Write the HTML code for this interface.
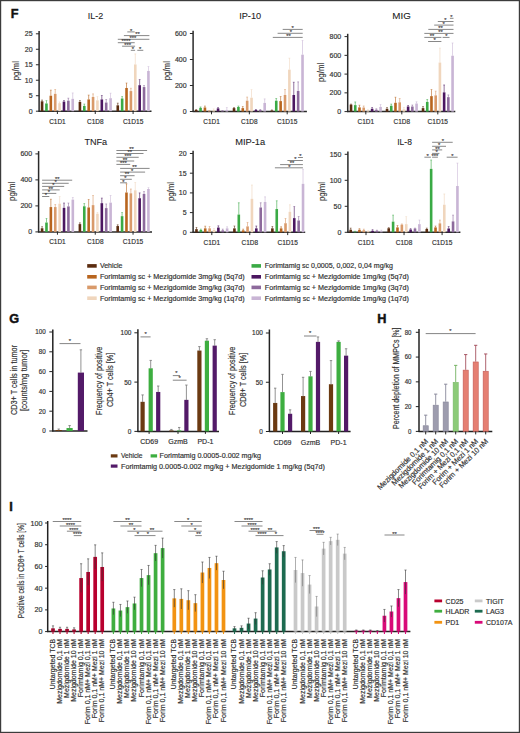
<!DOCTYPE html><html><head><meta charset="utf-8"><style>html,body{margin:0;padding:0;background:#fff;}svg{display:block;font-family:"Liberation Sans", sans-serif;}</style></head><body>
<svg width="520" height="733" viewBox="0 0 520 733">
<rect x="0" y="0" width="520" height="733" fill="#fff"/>
<text x="10.8" y="17.9" font-size="12.7" text-anchor="start" fill="#111" font-weight="bold" stroke="#111" stroke-width="0.45">F</text>
<text x="95.45" y="18.9" font-size="9.7" text-anchor="middle" fill="#222" font-weight="normal" textLength="15.5" lengthAdjust="spacingAndGlyphs" stroke="#222" stroke-width="0.08">IL-2</text>
<line x1="39.1" y1="31" x2="39.1" y2="111.7" stroke="#2a2a2a" stroke-width="1.5"/>
<line x1="35.9" y1="111.2" x2="39.1" y2="111.2" stroke="#2a2a2a" stroke-width="1"/>
<text x="32.6" y="113.7" font-size="7" text-anchor="end" fill="#333" font-weight="normal" stroke="#333" stroke-width="0.18">0</text>
<line x1="35.9" y1="95.72" x2="39.1" y2="95.72" stroke="#2a2a2a" stroke-width="1"/>
<text x="32.6" y="98.22" font-size="7" text-anchor="end" fill="#333" font-weight="normal" stroke="#333" stroke-width="0.18">5</text>
<line x1="35.9" y1="80.24" x2="39.1" y2="80.24" stroke="#2a2a2a" stroke-width="1"/>
<text x="32.6" y="82.74" font-size="7" text-anchor="end" fill="#333" font-weight="normal" stroke="#333" stroke-width="0.18">10</text>
<line x1="35.9" y1="64.76" x2="39.1" y2="64.76" stroke="#2a2a2a" stroke-width="1"/>
<text x="32.6" y="67.26" font-size="7" text-anchor="end" fill="#333" font-weight="normal" stroke="#333" stroke-width="0.18">15</text>
<line x1="35.9" y1="49.28" x2="39.1" y2="49.28" stroke="#2a2a2a" stroke-width="1"/>
<text x="32.6" y="51.78" font-size="7" text-anchor="end" fill="#333" font-weight="normal" stroke="#333" stroke-width="0.18">20</text>
<line x1="35.9" y1="33.8" x2="39.1" y2="33.8" stroke="#2a2a2a" stroke-width="1"/>
<text x="32.6" y="36.3" font-size="7" text-anchor="end" fill="#333" font-weight="normal" stroke="#333" stroke-width="0.18">25</text>
<line x1="38.6" y1="111.2" x2="151.5" y2="111.2" stroke="#2a2a2a" stroke-width="1.5"/>
<text x="19.3" y="70.7" font-size="9.2" text-anchor="middle" fill="#333" font-weight="normal" transform="rotate(-90 19.3 70.7)" textLength="19.2" lengthAdjust="spacingAndGlyphs" stroke="#333" stroke-width="0.12">pg/ml</text>
<line x1="57.4" y1="111.2" x2="57.4" y2="114" stroke="#2a2a2a" stroke-width="1"/>
<text x="57.4" y="123.6" font-size="7" text-anchor="middle" fill="#333" font-weight="normal" textLength="16.5" lengthAdjust="spacingAndGlyphs" stroke="#333" stroke-width="0.18">C1D1</text>
<line x1="42.07" y1="100.05" x2="42.07" y2="101.29" stroke="#5b2c0f" stroke-width="0.75" opacity="0.8"/>
<line x1="41.17" y1="100.05" x2="42.97" y2="100.05" stroke="#5b2c0f" stroke-width="0.6" opacity="0.8"/>
<rect x="40.77" y="101.29" width="2.6" height="9.91" fill="#5b2c0f"/>
<line x1="46.45" y1="100.67" x2="46.45" y2="103.46" stroke="#3aaa45" stroke-width="0.75" opacity="0.8"/>
<line x1="45.55" y1="100.67" x2="47.35" y2="100.67" stroke="#3aaa45" stroke-width="0.6" opacity="0.8"/>
<rect x="45.15" y="103.46" width="2.6" height="7.74" fill="#3aaa45"/>
<line x1="50.83" y1="90.15" x2="50.83" y2="95.72" stroke="#b8651f" stroke-width="0.75" opacity="0.8"/>
<line x1="49.93" y1="90.15" x2="51.73" y2="90.15" stroke="#b8651f" stroke-width="0.6" opacity="0.8"/>
<rect x="49.53" y="95.72" width="2.6" height="15.48" fill="#b8651f"/>
<line x1="55.21" y1="89.53" x2="55.21" y2="93.86" stroke="#d99a6a" stroke-width="0.75" opacity="0.8"/>
<line x1="54.31" y1="89.53" x2="56.11" y2="89.53" stroke="#d99a6a" stroke-width="0.6" opacity="0.8"/>
<rect x="53.91" y="93.86" width="2.6" height="17.34" fill="#d99a6a"/>
<line x1="59.59" y1="101.91" x2="59.59" y2="103.15" stroke="#f0d6bd" stroke-width="0.75" opacity="0.8"/>
<line x1="58.69" y1="101.91" x2="60.49" y2="101.91" stroke="#f0d6bd" stroke-width="0.6" opacity="0.8"/>
<rect x="58.29" y="103.15" width="2.6" height="8.05" fill="#f0d6bd"/>
<line x1="63.97" y1="100.36" x2="63.97" y2="101.6" stroke="#4b1660" stroke-width="0.75" opacity="0.8"/>
<line x1="63.07" y1="100.36" x2="64.87" y2="100.36" stroke="#4b1660" stroke-width="0.6" opacity="0.8"/>
<rect x="62.67" y="101.6" width="2.6" height="9.6" fill="#4b1660"/>
<line x1="68.35" y1="98.2" x2="68.35" y2="100.67" stroke="#8d6a9c" stroke-width="0.75" opacity="0.8"/>
<line x1="67.45" y1="98.2" x2="69.25" y2="98.2" stroke="#8d6a9c" stroke-width="0.6" opacity="0.8"/>
<rect x="67.05" y="100.67" width="2.6" height="10.53" fill="#8d6a9c"/>
<line x1="72.73" y1="92.93" x2="72.73" y2="98.82" stroke="#c9b5d5" stroke-width="0.75" opacity="0.8"/>
<line x1="71.83" y1="92.93" x2="73.63" y2="92.93" stroke="#c9b5d5" stroke-width="0.6" opacity="0.8"/>
<rect x="71.43" y="98.82" width="2.6" height="12.38" fill="#c9b5d5"/>
<line x1="95.25" y1="111.2" x2="95.25" y2="114" stroke="#2a2a2a" stroke-width="1"/>
<text x="95.25" y="123.6" font-size="7" text-anchor="middle" fill="#333" font-weight="normal" textLength="16.5" lengthAdjust="spacingAndGlyphs" stroke="#333" stroke-width="0.18">C1D8</text>
<line x1="79.92" y1="100.36" x2="79.92" y2="101.91" stroke="#5b2c0f" stroke-width="0.75" opacity="0.8"/>
<line x1="79.02" y1="100.36" x2="80.82" y2="100.36" stroke="#5b2c0f" stroke-width="0.6" opacity="0.8"/>
<rect x="78.62" y="101.91" width="2.6" height="9.29" fill="#5b2c0f"/>
<line x1="84.3" y1="104.08" x2="84.3" y2="105.94" stroke="#3aaa45" stroke-width="0.75" opacity="0.8"/>
<line x1="83.4" y1="104.08" x2="85.2" y2="104.08" stroke="#3aaa45" stroke-width="0.6" opacity="0.8"/>
<rect x="83" y="105.94" width="2.6" height="5.26" fill="#3aaa45"/>
<line x1="88.68" y1="95.1" x2="88.68" y2="99.44" stroke="#b8651f" stroke-width="0.75" opacity="0.8"/>
<line x1="87.78" y1="95.1" x2="89.58" y2="95.1" stroke="#b8651f" stroke-width="0.6" opacity="0.8"/>
<rect x="87.38" y="99.44" width="2.6" height="11.76" fill="#b8651f"/>
<line x1="93.06" y1="93.86" x2="93.06" y2="96.96" stroke="#d99a6a" stroke-width="0.75" opacity="0.8"/>
<line x1="92.16" y1="93.86" x2="93.96" y2="93.86" stroke="#d99a6a" stroke-width="0.6" opacity="0.8"/>
<rect x="91.76" y="96.96" width="2.6" height="14.24" fill="#d99a6a"/>
<line x1="97.44" y1="96.65" x2="97.44" y2="100.36" stroke="#f0d6bd" stroke-width="0.75" opacity="0.8"/>
<line x1="96.54" y1="96.65" x2="98.34" y2="96.65" stroke="#f0d6bd" stroke-width="0.6" opacity="0.8"/>
<rect x="96.14" y="100.36" width="2.6" height="10.84" fill="#f0d6bd"/>
<line x1="101.82" y1="95.41" x2="101.82" y2="99.44" stroke="#4b1660" stroke-width="0.75" opacity="0.8"/>
<line x1="100.92" y1="95.41" x2="102.72" y2="95.41" stroke="#4b1660" stroke-width="0.6" opacity="0.8"/>
<rect x="100.52" y="99.44" width="2.6" height="11.76" fill="#4b1660"/>
<line x1="106.2" y1="99.44" x2="106.2" y2="102.53" stroke="#8d6a9c" stroke-width="0.75" opacity="0.8"/>
<line x1="105.3" y1="99.44" x2="107.1" y2="99.44" stroke="#8d6a9c" stroke-width="0.6" opacity="0.8"/>
<rect x="104.9" y="102.53" width="2.6" height="8.67" fill="#8d6a9c"/>
<line x1="110.58" y1="93.24" x2="110.58" y2="98.2" stroke="#c9b5d5" stroke-width="0.75" opacity="0.8"/>
<line x1="109.68" y1="93.24" x2="111.48" y2="93.24" stroke="#c9b5d5" stroke-width="0.6" opacity="0.8"/>
<rect x="109.28" y="98.2" width="2.6" height="13" fill="#c9b5d5"/>
<line x1="133.1" y1="111.2" x2="133.1" y2="114" stroke="#2a2a2a" stroke-width="1"/>
<text x="133.1" y="123.6" font-size="7" text-anchor="middle" fill="#333" font-weight="normal" textLength="20.4" lengthAdjust="spacingAndGlyphs" stroke="#333" stroke-width="0.18">C1D15</text>
<line x1="117.77" y1="103.15" x2="117.77" y2="105.32" stroke="#5b2c0f" stroke-width="0.75" opacity="0.8"/>
<line x1="116.87" y1="103.15" x2="118.67" y2="103.15" stroke="#5b2c0f" stroke-width="0.6" opacity="0.8"/>
<rect x="116.47" y="105.32" width="2.6" height="5.88" fill="#5b2c0f"/>
<line x1="122.15" y1="96.34" x2="122.15" y2="98.51" stroke="#3aaa45" stroke-width="0.75" opacity="0.8"/>
<line x1="121.25" y1="96.34" x2="123.05" y2="96.34" stroke="#3aaa45" stroke-width="0.6" opacity="0.8"/>
<rect x="120.85" y="98.51" width="2.6" height="12.69" fill="#3aaa45"/>
<line x1="126.53" y1="83.03" x2="126.53" y2="87.98" stroke="#b8651f" stroke-width="0.75" opacity="0.8"/>
<line x1="125.63" y1="83.03" x2="127.43" y2="83.03" stroke="#b8651f" stroke-width="0.6" opacity="0.8"/>
<rect x="125.23" y="87.98" width="2.6" height="23.22" fill="#b8651f"/>
<line x1="130.91" y1="88.29" x2="130.91" y2="91.08" stroke="#d99a6a" stroke-width="0.75" opacity="0.8"/>
<line x1="130.01" y1="88.29" x2="131.81" y2="88.29" stroke="#d99a6a" stroke-width="0.6" opacity="0.8"/>
<rect x="129.61" y="91.08" width="2.6" height="20.12" fill="#d99a6a"/>
<line x1="135.29" y1="53.92" x2="135.29" y2="64.45" stroke="#f0d6bd" stroke-width="0.75" opacity="0.8"/>
<line x1="134.39" y1="53.92" x2="136.19" y2="53.92" stroke="#f0d6bd" stroke-width="0.6" opacity="0.8"/>
<rect x="133.99" y="64.45" width="2.6" height="46.75" fill="#f0d6bd"/>
<line x1="139.67" y1="79.62" x2="139.67" y2="85.19" stroke="#4b1660" stroke-width="0.75" opacity="0.8"/>
<line x1="138.77" y1="79.62" x2="140.57" y2="79.62" stroke="#4b1660" stroke-width="0.6" opacity="0.8"/>
<rect x="138.37" y="85.19" width="2.6" height="26.01" fill="#4b1660"/>
<line x1="144.05" y1="85.5" x2="144.05" y2="87.05" stroke="#8d6a9c" stroke-width="0.75" opacity="0.8"/>
<line x1="143.15" y1="85.5" x2="144.95" y2="85.5" stroke="#8d6a9c" stroke-width="0.6" opacity="0.8"/>
<rect x="142.75" y="87.05" width="2.6" height="24.15" fill="#8d6a9c"/>
<line x1="148.43" y1="66.62" x2="148.43" y2="70.95" stroke="#c9b5d5" stroke-width="0.75" opacity="0.8"/>
<line x1="147.53" y1="66.62" x2="149.33" y2="66.62" stroke="#c9b5d5" stroke-width="0.6" opacity="0.8"/>
<rect x="147.13" y="70.95" width="2.6" height="40.25" fill="#c9b5d5"/>
<line x1="127.3" y1="31.9" x2="134.7" y2="31.9" stroke="#555" stroke-width="0.7"/>
<text x="131.2" y="32.65" font-size="5.8" text-anchor="middle" fill="#333" font-weight="normal" stroke="#333" stroke-width="0.1">*</text>
<line x1="123.9" y1="35.6" x2="149.4" y2="35.6" stroke="#555" stroke-width="0.7"/>
<text x="137.5" y="36.35" font-size="5.8" text-anchor="middle" fill="#333" font-weight="normal" stroke="#333" stroke-width="0.1">**</text>
<line x1="117.8" y1="39.3" x2="149.4" y2="39.3" stroke="#555" stroke-width="0.7"/>
<text x="132.9" y="40.05" font-size="5.8" text-anchor="middle" fill="#333" font-weight="normal" stroke="#333" stroke-width="0.1">***</text>
<line x1="117.8" y1="42.7" x2="134.7" y2="42.7" stroke="#555" stroke-width="0.7"/>
<text x="126" y="43.45" font-size="5.8" text-anchor="middle" fill="#333" font-weight="normal" stroke="#333" stroke-width="0.1">****</text>
<line x1="122.1" y1="46.2" x2="135.1" y2="46.2" stroke="#555" stroke-width="0.7"/>
<text x="127.7" y="46.95" font-size="5.8" text-anchor="middle" fill="#333" font-weight="normal" stroke="#333" stroke-width="0.1">***</text>
<line x1="130.8" y1="50.3" x2="135.1" y2="50.3" stroke="#555" stroke-width="0.7"/>
<text x="132.9" y="51.05" font-size="5.8" text-anchor="middle" fill="#333" font-weight="normal" stroke="#333" stroke-width="0.1">*</text>
<line x1="137.3" y1="50.3" x2="143.3" y2="50.3" stroke="#555" stroke-width="0.7"/>
<text x="140.1" y="51.05" font-size="5.8" text-anchor="middle" fill="#333" font-weight="normal" stroke="#333" stroke-width="0.1">*</text>
<text x="250.15" y="18.9" font-size="9.7" text-anchor="middle" fill="#222" font-weight="normal" textLength="21.9" lengthAdjust="spacingAndGlyphs" stroke="#222" stroke-width="0.08">IP-10</text>
<line x1="193.1" y1="30.7" x2="193.1" y2="112" stroke="#2a2a2a" stroke-width="1.5"/>
<line x1="189.9" y1="111.5" x2="193.1" y2="111.5" stroke="#2a2a2a" stroke-width="1"/>
<text x="186.6" y="114" font-size="7" text-anchor="end" fill="#333" font-weight="normal" stroke="#333" stroke-width="0.18">0</text>
<line x1="189.9" y1="85.5" x2="193.1" y2="85.5" stroke="#2a2a2a" stroke-width="1"/>
<text x="186.6" y="88" font-size="7" text-anchor="end" fill="#333" font-weight="normal" stroke="#333" stroke-width="0.18">200</text>
<line x1="189.9" y1="59.5" x2="193.1" y2="59.5" stroke="#2a2a2a" stroke-width="1"/>
<text x="186.6" y="62" font-size="7" text-anchor="end" fill="#333" font-weight="normal" stroke="#333" stroke-width="0.18">400</text>
<line x1="189.9" y1="33.5" x2="193.1" y2="33.5" stroke="#2a2a2a" stroke-width="1"/>
<text x="186.6" y="36" font-size="7" text-anchor="end" fill="#333" font-weight="normal" stroke="#333" stroke-width="0.18">600</text>
<line x1="192.6" y1="111.5" x2="306.9" y2="111.5" stroke="#2a2a2a" stroke-width="1.5"/>
<text x="169.9" y="70.7" font-size="9.2" text-anchor="middle" fill="#333" font-weight="normal" transform="rotate(-90 169.9 70.7)" textLength="19.2" lengthAdjust="spacingAndGlyphs" stroke="#333" stroke-width="0.12">pg/ml</text>
<line x1="211.5" y1="111.5" x2="211.5" y2="114.3" stroke="#2a2a2a" stroke-width="1"/>
<text x="211.5" y="123.9" font-size="7" text-anchor="middle" fill="#333" font-weight="normal" textLength="16.5" lengthAdjust="spacingAndGlyphs" stroke="#333" stroke-width="0.18">C1D1</text>
<line x1="196.17" y1="109.55" x2="196.17" y2="109.94" stroke="#5b2c0f" stroke-width="0.75" opacity="0.8"/>
<line x1="195.27" y1="109.55" x2="197.07" y2="109.55" stroke="#5b2c0f" stroke-width="0.6" opacity="0.8"/>
<rect x="194.87" y="109.94" width="2.6" height="1.56" fill="#5b2c0f"/>
<line x1="200.55" y1="106.95" x2="200.55" y2="107.86" stroke="#3aaa45" stroke-width="0.75" opacity="0.8"/>
<line x1="199.65" y1="106.95" x2="201.45" y2="106.95" stroke="#3aaa45" stroke-width="0.6" opacity="0.8"/>
<rect x="199.25" y="107.86" width="2.6" height="3.64" fill="#3aaa45"/>
<line x1="204.93" y1="106.04" x2="204.93" y2="107.47" stroke="#b8651f" stroke-width="0.75" opacity="0.8"/>
<line x1="204.03" y1="106.04" x2="205.83" y2="106.04" stroke="#b8651f" stroke-width="0.6" opacity="0.8"/>
<rect x="203.63" y="107.47" width="2.6" height="4.03" fill="#b8651f"/>
<line x1="209.31" y1="110.46" x2="209.31" y2="110.85" stroke="#d99a6a" stroke-width="0.75" opacity="0.8"/>
<line x1="208.41" y1="110.46" x2="210.21" y2="110.46" stroke="#d99a6a" stroke-width="0.6" opacity="0.8"/>
<rect x="208.01" y="110.85" width="2.6" height="0.65" fill="#d99a6a"/>
<line x1="213.69" y1="108.9" x2="213.69" y2="110.46" stroke="#f0d6bd" stroke-width="0.75" opacity="0.8"/>
<line x1="212.79" y1="108.9" x2="214.59" y2="108.9" stroke="#f0d6bd" stroke-width="0.6" opacity="0.8"/>
<rect x="212.39" y="110.46" width="2.6" height="1.04" fill="#f0d6bd"/>
<line x1="218.07" y1="107.6" x2="218.07" y2="108.38" stroke="#4b1660" stroke-width="0.75" opacity="0.8"/>
<line x1="217.17" y1="107.6" x2="218.97" y2="107.6" stroke="#4b1660" stroke-width="0.6" opacity="0.8"/>
<rect x="216.77" y="108.38" width="2.6" height="3.12" fill="#4b1660"/>
<line x1="222.45" y1="110.33" x2="222.45" y2="110.72" stroke="#8d6a9c" stroke-width="0.75" opacity="0.8"/>
<line x1="221.55" y1="110.33" x2="223.35" y2="110.33" stroke="#8d6a9c" stroke-width="0.6" opacity="0.8"/>
<rect x="221.15" y="110.72" width="2.6" height="0.78" fill="#8d6a9c"/>
<line x1="226.83" y1="107.6" x2="226.83" y2="109.94" stroke="#c9b5d5" stroke-width="0.75" opacity="0.8"/>
<line x1="225.93" y1="107.6" x2="227.73" y2="107.6" stroke="#c9b5d5" stroke-width="0.6" opacity="0.8"/>
<rect x="225.53" y="109.94" width="2.6" height="1.56" fill="#c9b5d5"/>
<line x1="249.35" y1="111.5" x2="249.35" y2="114.3" stroke="#2a2a2a" stroke-width="1"/>
<text x="249.35" y="123.9" font-size="7" text-anchor="middle" fill="#333" font-weight="normal" textLength="16.5" lengthAdjust="spacingAndGlyphs" stroke="#333" stroke-width="0.18">C1D8</text>
<line x1="234.02" y1="107.34" x2="234.02" y2="108.12" stroke="#5b2c0f" stroke-width="0.75" opacity="0.8"/>
<line x1="233.12" y1="107.34" x2="234.92" y2="107.34" stroke="#5b2c0f" stroke-width="0.6" opacity="0.8"/>
<rect x="232.72" y="108.12" width="2.6" height="3.38" fill="#5b2c0f"/>
<line x1="238.4" y1="106.04" x2="238.4" y2="106.95" stroke="#3aaa45" stroke-width="0.75" opacity="0.8"/>
<line x1="237.5" y1="106.04" x2="239.3" y2="106.04" stroke="#3aaa45" stroke-width="0.6" opacity="0.8"/>
<rect x="237.1" y="106.95" width="2.6" height="4.55" fill="#3aaa45"/>
<line x1="242.78" y1="106.3" x2="242.78" y2="108.12" stroke="#b8651f" stroke-width="0.75" opacity="0.8"/>
<line x1="241.88" y1="106.3" x2="243.68" y2="106.3" stroke="#b8651f" stroke-width="0.6" opacity="0.8"/>
<rect x="241.48" y="108.12" width="2.6" height="3.38" fill="#b8651f"/>
<line x1="247.16" y1="97.07" x2="247.16" y2="100.71" stroke="#d99a6a" stroke-width="0.75" opacity="0.8"/>
<line x1="246.26" y1="97.07" x2="248.06" y2="97.07" stroke="#d99a6a" stroke-width="0.6" opacity="0.8"/>
<rect x="245.86" y="100.71" width="2.6" height="10.79" fill="#d99a6a"/>
<line x1="251.54" y1="89.66" x2="251.54" y2="97.72" stroke="#f0d6bd" stroke-width="0.75" opacity="0.8"/>
<line x1="250.64" y1="89.66" x2="252.44" y2="89.66" stroke="#f0d6bd" stroke-width="0.6" opacity="0.8"/>
<rect x="250.24" y="97.72" width="2.6" height="13.78" fill="#f0d6bd"/>
<line x1="255.92" y1="109.42" x2="255.92" y2="109.94" stroke="#4b1660" stroke-width="0.75" opacity="0.8"/>
<line x1="255.02" y1="109.42" x2="256.82" y2="109.42" stroke="#4b1660" stroke-width="0.6" opacity="0.8"/>
<rect x="254.62" y="109.94" width="2.6" height="1.56" fill="#4b1660"/>
<line x1="260.3" y1="109.42" x2="260.3" y2="109.94" stroke="#8d6a9c" stroke-width="0.75" opacity="0.8"/>
<line x1="259.4" y1="109.42" x2="261.2" y2="109.42" stroke="#8d6a9c" stroke-width="0.6" opacity="0.8"/>
<rect x="259" y="109.94" width="2.6" height="1.56" fill="#8d6a9c"/>
<line x1="264.68" y1="98.89" x2="264.68" y2="102.92" stroke="#c9b5d5" stroke-width="0.75" opacity="0.8"/>
<line x1="263.78" y1="98.89" x2="265.58" y2="98.89" stroke="#c9b5d5" stroke-width="0.6" opacity="0.8"/>
<rect x="263.38" y="102.92" width="2.6" height="8.58" fill="#c9b5d5"/>
<line x1="287.2" y1="111.5" x2="287.2" y2="114.3" stroke="#2a2a2a" stroke-width="1"/>
<text x="287.2" y="123.9" font-size="7" text-anchor="middle" fill="#333" font-weight="normal" textLength="20.4" lengthAdjust="spacingAndGlyphs" stroke="#333" stroke-width="0.18">C1D15</text>
<line x1="271.87" y1="109.94" x2="271.87" y2="110.46" stroke="#5b2c0f" stroke-width="0.75" opacity="0.8"/>
<line x1="270.97" y1="109.94" x2="272.77" y2="109.94" stroke="#5b2c0f" stroke-width="0.6" opacity="0.8"/>
<rect x="270.57" y="110.46" width="2.6" height="1.04" fill="#5b2c0f"/>
<line x1="276.25" y1="98.5" x2="276.25" y2="100.71" stroke="#3aaa45" stroke-width="0.75" opacity="0.8"/>
<line x1="275.35" y1="98.5" x2="277.15" y2="98.5" stroke="#3aaa45" stroke-width="0.6" opacity="0.8"/>
<rect x="274.95" y="100.71" width="2.6" height="10.79" fill="#3aaa45"/>
<line x1="280.63" y1="96.55" x2="280.63" y2="101.1" stroke="#b8651f" stroke-width="0.75" opacity="0.8"/>
<line x1="279.73" y1="96.55" x2="281.53" y2="96.55" stroke="#b8651f" stroke-width="0.6" opacity="0.8"/>
<rect x="279.33" y="101.1" width="2.6" height="10.4" fill="#b8651f"/>
<line x1="285.01" y1="89.4" x2="285.01" y2="94.99" stroke="#d99a6a" stroke-width="0.75" opacity="0.8"/>
<line x1="284.11" y1="89.4" x2="285.91" y2="89.4" stroke="#d99a6a" stroke-width="0.6" opacity="0.8"/>
<rect x="283.71" y="94.99" width="2.6" height="16.51" fill="#d99a6a"/>
<line x1="289.39" y1="58.2" x2="289.39" y2="69.64" stroke="#f0d6bd" stroke-width="0.75" opacity="0.8"/>
<line x1="288.49" y1="58.2" x2="290.29" y2="58.2" stroke="#f0d6bd" stroke-width="0.6" opacity="0.8"/>
<rect x="288.09" y="69.64" width="2.6" height="41.86" fill="#f0d6bd"/>
<line x1="293.77" y1="82.25" x2="293.77" y2="94.99" stroke="#4b1660" stroke-width="0.75" opacity="0.8"/>
<line x1="292.87" y1="82.25" x2="294.67" y2="82.25" stroke="#4b1660" stroke-width="0.6" opacity="0.8"/>
<rect x="292.47" y="94.99" width="2.6" height="16.51" fill="#4b1660"/>
<line x1="298.15" y1="81.86" x2="298.15" y2="90.96" stroke="#8d6a9c" stroke-width="0.75" opacity="0.8"/>
<line x1="297.25" y1="81.86" x2="299.05" y2="81.86" stroke="#8d6a9c" stroke-width="0.6" opacity="0.8"/>
<rect x="296.85" y="90.96" width="2.6" height="20.54" fill="#8d6a9c"/>
<line x1="302.53" y1="40.52" x2="302.53" y2="54.69" stroke="#c9b5d5" stroke-width="0.75" opacity="0.8"/>
<line x1="301.63" y1="40.52" x2="303.43" y2="40.52" stroke="#c9b5d5" stroke-width="0.6" opacity="0.8"/>
<rect x="301.23" y="54.69" width="2.6" height="56.81" fill="#c9b5d5"/>
<line x1="282.7" y1="29.4" x2="302.7" y2="29.4" stroke="#555" stroke-width="0.7"/>
<text x="292.7" y="30.15" font-size="5.8" text-anchor="middle" fill="#333" font-weight="normal" stroke="#333" stroke-width="0.1">*</text>
<line x1="277.6" y1="33.3" x2="302.7" y2="33.3" stroke="#555" stroke-width="0.7"/>
<text x="291" y="34.05" font-size="5.8" text-anchor="middle" fill="#333" font-weight="normal" stroke="#333" stroke-width="0.1">*</text>
<line x1="272.8" y1="37.4" x2="302.7" y2="37.4" stroke="#555" stroke-width="0.7"/>
<text x="288.4" y="38.15" font-size="5.8" text-anchor="middle" fill="#333" font-weight="normal" stroke="#333" stroke-width="0.1">**</text>
<text x="401.55" y="18.9" font-size="9.7" text-anchor="middle" fill="#222" font-weight="normal" textLength="18.5" lengthAdjust="spacingAndGlyphs" stroke="#222" stroke-width="0.08">MIG</text>
<line x1="347.7" y1="33.8" x2="347.7" y2="112.1" stroke="#2a2a2a" stroke-width="1.5"/>
<line x1="344.5" y1="111.6" x2="347.7" y2="111.6" stroke="#2a2a2a" stroke-width="1"/>
<text x="341.2" y="114.1" font-size="7" text-anchor="end" fill="#333" font-weight="normal" stroke="#333" stroke-width="0.18">0</text>
<line x1="344.5" y1="92.85" x2="347.7" y2="92.85" stroke="#2a2a2a" stroke-width="1"/>
<text x="341.2" y="95.35" font-size="7" text-anchor="end" fill="#333" font-weight="normal" stroke="#333" stroke-width="0.18">200</text>
<line x1="344.5" y1="74.1" x2="347.7" y2="74.1" stroke="#2a2a2a" stroke-width="1"/>
<text x="341.2" y="76.6" font-size="7" text-anchor="end" fill="#333" font-weight="normal" stroke="#333" stroke-width="0.18">400</text>
<line x1="344.5" y1="55.35" x2="347.7" y2="55.35" stroke="#2a2a2a" stroke-width="1"/>
<text x="341.2" y="57.85" font-size="7" text-anchor="end" fill="#333" font-weight="normal" stroke="#333" stroke-width="0.18">600</text>
<line x1="344.5" y1="36.6" x2="347.7" y2="36.6" stroke="#2a2a2a" stroke-width="1"/>
<text x="341.2" y="39.1" font-size="7" text-anchor="end" fill="#333" font-weight="normal" stroke="#333" stroke-width="0.18">800</text>
<line x1="347.2" y1="111.6" x2="455.3" y2="111.6" stroke="#2a2a2a" stroke-width="1.5"/>
<text x="324.3" y="72.4" font-size="9.2" text-anchor="middle" fill="#333" font-weight="normal" transform="rotate(-90 324.3 72.4)" textLength="19.2" lengthAdjust="spacingAndGlyphs" stroke="#333" stroke-width="0.12">pg/ml</text>
<line x1="365.8" y1="111.6" x2="365.8" y2="114.4" stroke="#2a2a2a" stroke-width="1"/>
<text x="365.8" y="124" font-size="7" text-anchor="middle" fill="#333" font-weight="normal" textLength="16.5" lengthAdjust="spacingAndGlyphs" stroke="#333" stroke-width="0.18">C1D1</text>
<line x1="351.03" y1="104.1" x2="351.03" y2="104.57" stroke="#5b2c0f" stroke-width="0.75" opacity="0.8"/>
<line x1="350.13" y1="104.1" x2="351.93" y2="104.1" stroke="#5b2c0f" stroke-width="0.6" opacity="0.8"/>
<rect x="349.73" y="104.57" width="2.6" height="7.03" fill="#5b2c0f"/>
<line x1="355.25" y1="101.94" x2="355.25" y2="105.13" stroke="#3aaa45" stroke-width="0.75" opacity="0.8"/>
<line x1="354.35" y1="101.94" x2="356.15" y2="101.94" stroke="#3aaa45" stroke-width="0.6" opacity="0.8"/>
<rect x="353.95" y="105.13" width="2.6" height="6.47" fill="#3aaa45"/>
<line x1="359.47" y1="105.22" x2="359.47" y2="107.38" stroke="#b8651f" stroke-width="0.75" opacity="0.8"/>
<line x1="358.57" y1="105.22" x2="360.37" y2="105.22" stroke="#b8651f" stroke-width="0.6" opacity="0.8"/>
<rect x="358.17" y="107.38" width="2.6" height="4.22" fill="#b8651f"/>
<line x1="363.69" y1="105.97" x2="363.69" y2="107.57" stroke="#d99a6a" stroke-width="0.75" opacity="0.8"/>
<line x1="362.79" y1="105.97" x2="364.59" y2="105.97" stroke="#d99a6a" stroke-width="0.6" opacity="0.8"/>
<rect x="362.39" y="107.57" width="2.6" height="4.03" fill="#d99a6a"/>
<line x1="367.91" y1="109.72" x2="367.91" y2="110.66" stroke="#f0d6bd" stroke-width="0.75" opacity="0.8"/>
<line x1="367.01" y1="109.72" x2="368.81" y2="109.72" stroke="#f0d6bd" stroke-width="0.6" opacity="0.8"/>
<rect x="366.61" y="110.66" width="2.6" height="0.94" fill="#f0d6bd"/>
<line x1="372.13" y1="107.38" x2="372.13" y2="108.79" stroke="#4b1660" stroke-width="0.75" opacity="0.8"/>
<line x1="371.23" y1="107.38" x2="373.03" y2="107.38" stroke="#4b1660" stroke-width="0.6" opacity="0.8"/>
<rect x="370.83" y="108.79" width="2.6" height="2.81" fill="#4b1660"/>
<line x1="376.35" y1="108.79" x2="376.35" y2="109.72" stroke="#8d6a9c" stroke-width="0.75" opacity="0.8"/>
<line x1="375.45" y1="108.79" x2="377.25" y2="108.79" stroke="#8d6a9c" stroke-width="0.6" opacity="0.8"/>
<rect x="375.05" y="109.72" width="2.6" height="1.88" fill="#8d6a9c"/>
<line x1="380.57" y1="104.57" x2="380.57" y2="106.91" stroke="#c9b5d5" stroke-width="0.75" opacity="0.8"/>
<line x1="379.67" y1="104.57" x2="381.47" y2="104.57" stroke="#c9b5d5" stroke-width="0.6" opacity="0.8"/>
<rect x="379.27" y="106.91" width="2.6" height="4.69" fill="#c9b5d5"/>
<line x1="401.8" y1="111.6" x2="401.8" y2="114.4" stroke="#2a2a2a" stroke-width="1"/>
<text x="401.8" y="124" font-size="7" text-anchor="middle" fill="#333" font-weight="normal" textLength="16.5" lengthAdjust="spacingAndGlyphs" stroke="#333" stroke-width="0.18">C1D8</text>
<line x1="387.03" y1="107.38" x2="387.03" y2="108.79" stroke="#5b2c0f" stroke-width="0.75" opacity="0.8"/>
<line x1="386.13" y1="107.38" x2="387.93" y2="107.38" stroke="#5b2c0f" stroke-width="0.6" opacity="0.8"/>
<rect x="385.73" y="108.79" width="2.6" height="2.81" fill="#5b2c0f"/>
<line x1="391.25" y1="104.1" x2="391.25" y2="105.79" stroke="#3aaa45" stroke-width="0.75" opacity="0.8"/>
<line x1="390.35" y1="104.1" x2="392.15" y2="104.1" stroke="#3aaa45" stroke-width="0.6" opacity="0.8"/>
<rect x="389.95" y="105.79" width="2.6" height="5.81" fill="#3aaa45"/>
<line x1="395.47" y1="97.26" x2="395.47" y2="102.79" stroke="#b8651f" stroke-width="0.75" opacity="0.8"/>
<line x1="394.57" y1="97.26" x2="396.37" y2="97.26" stroke="#b8651f" stroke-width="0.6" opacity="0.8"/>
<rect x="394.17" y="102.79" width="2.6" height="8.81" fill="#b8651f"/>
<line x1="399.69" y1="98.38" x2="399.69" y2="102.32" stroke="#d99a6a" stroke-width="0.75" opacity="0.8"/>
<line x1="398.79" y1="98.38" x2="400.59" y2="98.38" stroke="#d99a6a" stroke-width="0.6" opacity="0.8"/>
<rect x="398.39" y="102.32" width="2.6" height="9.28" fill="#d99a6a"/>
<line x1="403.91" y1="107.38" x2="403.91" y2="109.26" stroke="#f0d6bd" stroke-width="0.75" opacity="0.8"/>
<line x1="403.01" y1="107.38" x2="404.81" y2="107.38" stroke="#f0d6bd" stroke-width="0.6" opacity="0.8"/>
<rect x="402.61" y="109.26" width="2.6" height="2.34" fill="#f0d6bd"/>
<line x1="408.13" y1="105.51" x2="408.13" y2="106.54" stroke="#4b1660" stroke-width="0.75" opacity="0.8"/>
<line x1="407.23" y1="105.51" x2="409.03" y2="105.51" stroke="#4b1660" stroke-width="0.6" opacity="0.8"/>
<rect x="406.83" y="106.54" width="2.6" height="5.06" fill="#4b1660"/>
<line x1="412.35" y1="105.04" x2="412.35" y2="106.54" stroke="#8d6a9c" stroke-width="0.75" opacity="0.8"/>
<line x1="411.45" y1="105.04" x2="413.25" y2="105.04" stroke="#8d6a9c" stroke-width="0.6" opacity="0.8"/>
<rect x="411.05" y="106.54" width="2.6" height="5.06" fill="#8d6a9c"/>
<line x1="416.57" y1="101.76" x2="416.57" y2="103.54" stroke="#c9b5d5" stroke-width="0.75" opacity="0.8"/>
<line x1="415.67" y1="101.76" x2="417.47" y2="101.76" stroke="#c9b5d5" stroke-width="0.6" opacity="0.8"/>
<rect x="415.27" y="103.54" width="2.6" height="8.06" fill="#c9b5d5"/>
<line x1="437.8" y1="111.6" x2="437.8" y2="114.4" stroke="#2a2a2a" stroke-width="1"/>
<text x="437.8" y="124" font-size="7" text-anchor="middle" fill="#333" font-weight="normal" textLength="20.4" lengthAdjust="spacingAndGlyphs" stroke="#333" stroke-width="0.18">C1D15</text>
<line x1="423.03" y1="106.54" x2="423.03" y2="108.13" stroke="#5b2c0f" stroke-width="0.75" opacity="0.8"/>
<line x1="422.13" y1="106.54" x2="423.93" y2="106.54" stroke="#5b2c0f" stroke-width="0.6" opacity="0.8"/>
<rect x="421.73" y="108.13" width="2.6" height="3.47" fill="#5b2c0f"/>
<line x1="427.25" y1="99.51" x2="427.25" y2="101.94" stroke="#3aaa45" stroke-width="0.75" opacity="0.8"/>
<line x1="426.35" y1="99.51" x2="428.15" y2="99.51" stroke="#3aaa45" stroke-width="0.6" opacity="0.8"/>
<rect x="425.95" y="101.94" width="2.6" height="9.66" fill="#3aaa45"/>
<line x1="431.47" y1="89.57" x2="431.47" y2="96.13" stroke="#b8651f" stroke-width="0.75" opacity="0.8"/>
<line x1="430.57" y1="89.57" x2="432.37" y2="89.57" stroke="#b8651f" stroke-width="0.6" opacity="0.8"/>
<rect x="430.17" y="96.13" width="2.6" height="15.47" fill="#b8651f"/>
<line x1="435.69" y1="91.16" x2="435.69" y2="95.38" stroke="#d99a6a" stroke-width="0.75" opacity="0.8"/>
<line x1="434.79" y1="91.16" x2="436.59" y2="91.16" stroke="#d99a6a" stroke-width="0.6" opacity="0.8"/>
<rect x="434.39" y="95.38" width="2.6" height="16.22" fill="#d99a6a"/>
<line x1="439.91" y1="48.13" x2="439.91" y2="62.57" stroke="#f0d6bd" stroke-width="0.75" opacity="0.8"/>
<line x1="439.01" y1="48.13" x2="440.81" y2="48.13" stroke="#f0d6bd" stroke-width="0.6" opacity="0.8"/>
<rect x="438.61" y="62.57" width="2.6" height="49.03" fill="#f0d6bd"/>
<line x1="444.13" y1="84.97" x2="444.13" y2="92.38" stroke="#4b1660" stroke-width="0.75" opacity="0.8"/>
<line x1="443.23" y1="84.97" x2="445.03" y2="84.97" stroke="#4b1660" stroke-width="0.6" opacity="0.8"/>
<rect x="442.83" y="92.38" width="2.6" height="19.22" fill="#4b1660"/>
<line x1="448.35" y1="94.91" x2="448.35" y2="97.16" stroke="#8d6a9c" stroke-width="0.75" opacity="0.8"/>
<line x1="447.45" y1="94.91" x2="449.25" y2="94.91" stroke="#8d6a9c" stroke-width="0.6" opacity="0.8"/>
<rect x="447.05" y="97.16" width="2.6" height="14.44" fill="#8d6a9c"/>
<line x1="452.57" y1="42.97" x2="452.57" y2="55.72" stroke="#c9b5d5" stroke-width="0.75" opacity="0.8"/>
<line x1="451.67" y1="42.97" x2="453.47" y2="42.97" stroke="#c9b5d5" stroke-width="0.6" opacity="0.8"/>
<rect x="451.27" y="55.72" width="2.6" height="55.88" fill="#c9b5d5"/>
<line x1="449.9" y1="18.3" x2="453.5" y2="18.3" stroke="#555" stroke-width="0.7"/>
<text x="451.5" y="19.05" font-size="5.8" text-anchor="middle" fill="#333" font-weight="normal" stroke="#333" stroke-width="0.1">*</text>
<line x1="437.8" y1="21.5" x2="453.5" y2="21.5" stroke="#555" stroke-width="0.7"/>
<text x="445.5" y="22.25" font-size="5.8" text-anchor="middle" fill="#333" font-weight="normal" stroke="#333" stroke-width="0.1">*</text>
<line x1="434.2" y1="25.1" x2="453.5" y2="25.1" stroke="#555" stroke-width="0.7"/>
<text x="443.7" y="25.85" font-size="5.8" text-anchor="middle" fill="#333" font-weight="normal" stroke="#333" stroke-width="0.1">*</text>
<line x1="428.3" y1="29.4" x2="453.5" y2="29.4" stroke="#555" stroke-width="0.7"/>
<text x="440.5" y="30.15" font-size="5.8" text-anchor="middle" fill="#333" font-weight="normal" stroke="#333" stroke-width="0.1">**</text>
<line x1="424.3" y1="33.4" x2="453.5" y2="33.4" stroke="#555" stroke-width="0.7"/>
<text x="440.5" y="34.15" font-size="5.8" text-anchor="middle" fill="#333" font-weight="normal" stroke="#333" stroke-width="0.1">**</text>
<line x1="424.3" y1="37.4" x2="441.4" y2="37.4" stroke="#555" stroke-width="0.7"/>
<text x="432.1" y="38.15" font-size="5.8" text-anchor="middle" fill="#333" font-weight="normal" stroke="#333" stroke-width="0.1">**</text>
<line x1="442.6" y1="37.4" x2="449.5" y2="37.4" stroke="#555" stroke-width="0.7"/>
<text x="446.4" y="38.15" font-size="5.8" text-anchor="middle" fill="#333" font-weight="normal" stroke="#333" stroke-width="0.1">*</text>
<line x1="428.1" y1="41.5" x2="441.4" y2="41.5" stroke="#555" stroke-width="0.7"/>
<text x="434.6" y="42.25" font-size="5.8" text-anchor="middle" fill="#333" font-weight="normal" stroke="#333" stroke-width="0.1">*</text>
<text x="95.8" y="145" font-size="9.7" text-anchor="middle" fill="#222" font-weight="normal" textLength="22.8" lengthAdjust="spacingAndGlyphs" stroke="#222" stroke-width="0.08">TNFa</text>
<line x1="38.6" y1="151.1" x2="38.6" y2="232.4" stroke="#2a2a2a" stroke-width="1.5"/>
<line x1="35.4" y1="231.9" x2="38.6" y2="231.9" stroke="#2a2a2a" stroke-width="1"/>
<text x="32.1" y="234.4" font-size="7" text-anchor="end" fill="#333" font-weight="normal" stroke="#333" stroke-width="0.18">0</text>
<line x1="35.4" y1="205.9" x2="38.6" y2="205.9" stroke="#2a2a2a" stroke-width="1"/>
<text x="32.1" y="208.4" font-size="7" text-anchor="end" fill="#333" font-weight="normal" stroke="#333" stroke-width="0.18">200</text>
<line x1="35.4" y1="179.9" x2="38.6" y2="179.9" stroke="#2a2a2a" stroke-width="1"/>
<text x="32.1" y="182.4" font-size="7" text-anchor="end" fill="#333" font-weight="normal" stroke="#333" stroke-width="0.18">400</text>
<line x1="35.4" y1="153.9" x2="38.6" y2="153.9" stroke="#2a2a2a" stroke-width="1"/>
<text x="32.1" y="156.4" font-size="7" text-anchor="end" fill="#333" font-weight="normal" stroke="#333" stroke-width="0.18">600</text>
<line x1="38.1" y1="231.9" x2="152" y2="231.9" stroke="#2a2a2a" stroke-width="1.5"/>
<text x="15.5" y="191.3" font-size="9.2" text-anchor="middle" fill="#333" font-weight="normal" transform="rotate(-90 15.5 191.3)" textLength="19.2" lengthAdjust="spacingAndGlyphs" stroke="#333" stroke-width="0.12">pg/ml</text>
<line x1="57.45" y1="231.9" x2="57.45" y2="234.7" stroke="#2a2a2a" stroke-width="1"/>
<text x="57.45" y="244.3" font-size="7" text-anchor="middle" fill="#333" font-weight="normal" textLength="16.5" lengthAdjust="spacingAndGlyphs" stroke="#333" stroke-width="0.18">C1D1</text>
<line x1="42.09" y1="226.7" x2="42.09" y2="228.26" stroke="#5b2c0f" stroke-width="0.75" opacity="0.8"/>
<line x1="41.19" y1="226.7" x2="42.99" y2="226.7" stroke="#5b2c0f" stroke-width="0.6" opacity="0.8"/>
<rect x="40.79" y="228.26" width="2.6" height="3.64" fill="#5b2c0f"/>
<line x1="46.48" y1="218.38" x2="46.48" y2="222.54" stroke="#3aaa45" stroke-width="0.75" opacity="0.8"/>
<line x1="45.58" y1="218.38" x2="47.38" y2="218.38" stroke="#3aaa45" stroke-width="0.6" opacity="0.8"/>
<rect x="45.18" y="222.54" width="2.6" height="9.36" fill="#3aaa45"/>
<line x1="50.87" y1="199.27" x2="50.87" y2="207.07" stroke="#b8651f" stroke-width="0.75" opacity="0.8"/>
<line x1="49.97" y1="199.27" x2="51.77" y2="199.27" stroke="#b8651f" stroke-width="0.6" opacity="0.8"/>
<rect x="49.57" y="207.07" width="2.6" height="24.83" fill="#b8651f"/>
<line x1="55.26" y1="204.34" x2="55.26" y2="207.07" stroke="#d99a6a" stroke-width="0.75" opacity="0.8"/>
<line x1="54.36" y1="204.34" x2="56.16" y2="204.34" stroke="#d99a6a" stroke-width="0.6" opacity="0.8"/>
<rect x="53.96" y="207.07" width="2.6" height="24.83" fill="#d99a6a"/>
<line x1="59.65" y1="196.54" x2="59.65" y2="203.69" stroke="#f0d6bd" stroke-width="0.75" opacity="0.8"/>
<line x1="58.75" y1="196.54" x2="60.55" y2="196.54" stroke="#f0d6bd" stroke-width="0.6" opacity="0.8"/>
<rect x="58.35" y="203.69" width="2.6" height="28.21" fill="#f0d6bd"/>
<line x1="64.03" y1="203.04" x2="64.03" y2="207.85" stroke="#4b1660" stroke-width="0.75" opacity="0.8"/>
<line x1="63.13" y1="203.04" x2="64.94" y2="203.04" stroke="#4b1660" stroke-width="0.6" opacity="0.8"/>
<rect x="62.73" y="207.85" width="2.6" height="24.05" fill="#4b1660"/>
<line x1="68.42" y1="203.04" x2="68.42" y2="206.42" stroke="#8d6a9c" stroke-width="0.75" opacity="0.8"/>
<line x1="67.52" y1="203.04" x2="69.33" y2="203.04" stroke="#8d6a9c" stroke-width="0.6" opacity="0.8"/>
<rect x="67.12" y="206.42" width="2.6" height="25.48" fill="#8d6a9c"/>
<line x1="72.81" y1="197.45" x2="72.81" y2="199.66" stroke="#c9b5d5" stroke-width="0.75" opacity="0.8"/>
<line x1="71.91" y1="197.45" x2="73.72" y2="197.45" stroke="#c9b5d5" stroke-width="0.6" opacity="0.8"/>
<rect x="71.52" y="199.66" width="2.6" height="32.24" fill="#c9b5d5"/>
<line x1="95.25" y1="231.9" x2="95.25" y2="234.7" stroke="#2a2a2a" stroke-width="1"/>
<text x="95.25" y="244.3" font-size="7" text-anchor="middle" fill="#333" font-weight="normal" textLength="16.5" lengthAdjust="spacingAndGlyphs" stroke="#333" stroke-width="0.18">C1D8</text>
<line x1="79.89" y1="222.8" x2="79.89" y2="224.1" stroke="#5b2c0f" stroke-width="0.75" opacity="0.8"/>
<line x1="78.98" y1="222.8" x2="80.79" y2="222.8" stroke="#5b2c0f" stroke-width="0.6" opacity="0.8"/>
<rect x="78.59" y="224.1" width="2.6" height="7.8" fill="#5b2c0f"/>
<line x1="84.28" y1="203.3" x2="84.28" y2="206.29" stroke="#3aaa45" stroke-width="0.75" opacity="0.8"/>
<line x1="83.38" y1="203.3" x2="85.18" y2="203.3" stroke="#3aaa45" stroke-width="0.6" opacity="0.8"/>
<rect x="82.98" y="206.29" width="2.6" height="25.61" fill="#3aaa45"/>
<line x1="88.67" y1="199.4" x2="88.67" y2="207.46" stroke="#b8651f" stroke-width="0.75" opacity="0.8"/>
<line x1="87.77" y1="199.4" x2="89.57" y2="199.4" stroke="#b8651f" stroke-width="0.6" opacity="0.8"/>
<rect x="87.37" y="207.46" width="2.6" height="24.44" fill="#b8651f"/>
<line x1="93.06" y1="195.5" x2="93.06" y2="205.12" stroke="#d99a6a" stroke-width="0.75" opacity="0.8"/>
<line x1="92.16" y1="195.5" x2="93.96" y2="195.5" stroke="#d99a6a" stroke-width="0.6" opacity="0.8"/>
<rect x="91.76" y="205.12" width="2.6" height="26.78" fill="#d99a6a"/>
<line x1="97.44" y1="212.4" x2="97.44" y2="213.7" stroke="#f0d6bd" stroke-width="0.75" opacity="0.8"/>
<line x1="96.54" y1="212.4" x2="98.34" y2="212.4" stroke="#f0d6bd" stroke-width="0.6" opacity="0.8"/>
<rect x="96.14" y="213.7" width="2.6" height="18.2" fill="#f0d6bd"/>
<line x1="101.83" y1="198.1" x2="101.83" y2="203.17" stroke="#4b1660" stroke-width="0.75" opacity="0.8"/>
<line x1="100.93" y1="198.1" x2="102.73" y2="198.1" stroke="#4b1660" stroke-width="0.6" opacity="0.8"/>
<rect x="100.53" y="203.17" width="2.6" height="28.73" fill="#4b1660"/>
<line x1="106.22" y1="203.95" x2="106.22" y2="208.11" stroke="#8d6a9c" stroke-width="0.75" opacity="0.8"/>
<line x1="105.32" y1="203.95" x2="107.12" y2="203.95" stroke="#8d6a9c" stroke-width="0.6" opacity="0.8"/>
<rect x="104.92" y="208.11" width="2.6" height="23.79" fill="#8d6a9c"/>
<line x1="110.61" y1="195.5" x2="110.61" y2="202.65" stroke="#c9b5d5" stroke-width="0.75" opacity="0.8"/>
<line x1="109.71" y1="195.5" x2="111.52" y2="195.5" stroke="#c9b5d5" stroke-width="0.6" opacity="0.8"/>
<rect x="109.31" y="202.65" width="2.6" height="29.25" fill="#c9b5d5"/>
<line x1="133.05" y1="231.9" x2="133.05" y2="234.7" stroke="#2a2a2a" stroke-width="1"/>
<text x="133.05" y="244.3" font-size="7" text-anchor="middle" fill="#333" font-weight="normal" textLength="20.4" lengthAdjust="spacingAndGlyphs" stroke="#333" stroke-width="0.18">C1D15</text>
<line x1="117.69" y1="224.75" x2="117.69" y2="226.05" stroke="#5b2c0f" stroke-width="0.75" opacity="0.8"/>
<line x1="116.79" y1="224.75" x2="118.59" y2="224.75" stroke="#5b2c0f" stroke-width="0.6" opacity="0.8"/>
<rect x="116.39" y="226.05" width="2.6" height="5.85" fill="#5b2c0f"/>
<line x1="122.08" y1="212.4" x2="122.08" y2="216.17" stroke="#3aaa45" stroke-width="0.75" opacity="0.8"/>
<line x1="121.18" y1="212.4" x2="122.98" y2="212.4" stroke="#3aaa45" stroke-width="0.6" opacity="0.8"/>
<rect x="120.78" y="216.17" width="2.6" height="15.73" fill="#3aaa45"/>
<line x1="126.47" y1="183.8" x2="126.47" y2="192.51" stroke="#b8651f" stroke-width="0.75" opacity="0.8"/>
<line x1="125.57" y1="183.8" x2="127.37" y2="183.8" stroke="#b8651f" stroke-width="0.6" opacity="0.8"/>
<rect x="125.17" y="192.51" width="2.6" height="39.39" fill="#b8651f"/>
<line x1="130.86" y1="189" x2="130.86" y2="193.29" stroke="#d99a6a" stroke-width="0.75" opacity="0.8"/>
<line x1="129.96" y1="189" x2="131.76" y2="189" stroke="#d99a6a" stroke-width="0.6" opacity="0.8"/>
<rect x="129.56" y="193.29" width="2.6" height="38.61" fill="#d99a6a"/>
<line x1="135.25" y1="182.5" x2="135.25" y2="190.3" stroke="#f0d6bd" stroke-width="0.75" opacity="0.8"/>
<line x1="134.34" y1="182.5" x2="136.15" y2="182.5" stroke="#f0d6bd" stroke-width="0.6" opacity="0.8"/>
<rect x="133.94" y="190.3" width="2.6" height="41.6" fill="#f0d6bd"/>
<line x1="139.64" y1="192.9" x2="139.64" y2="198.23" stroke="#4b1660" stroke-width="0.75" opacity="0.8"/>
<line x1="138.74" y1="192.9" x2="140.54" y2="192.9" stroke="#4b1660" stroke-width="0.6" opacity="0.8"/>
<rect x="138.34" y="198.23" width="2.6" height="33.67" fill="#4b1660"/>
<line x1="144.03" y1="191.6" x2="144.03" y2="193.94" stroke="#8d6a9c" stroke-width="0.75" opacity="0.8"/>
<line x1="143.12" y1="191.6" x2="144.93" y2="191.6" stroke="#8d6a9c" stroke-width="0.6" opacity="0.8"/>
<rect x="142.72" y="193.94" width="2.6" height="37.96" fill="#8d6a9c"/>
<line x1="148.42" y1="187.7" x2="148.42" y2="189" stroke="#c9b5d5" stroke-width="0.75" opacity="0.8"/>
<line x1="147.52" y1="187.7" x2="149.32" y2="187.7" stroke="#c9b5d5" stroke-width="0.6" opacity="0.8"/>
<rect x="147.12" y="189" width="2.6" height="42.9" fill="#c9b5d5"/>
<line x1="42.1" y1="180.2" x2="72.2" y2="180.2" stroke="#555" stroke-width="0.7"/>
<text x="57.3" y="180.95" font-size="5.8" text-anchor="middle" fill="#333" font-weight="normal" stroke="#333" stroke-width="0.1">**</text>
<line x1="42.1" y1="183.3" x2="68.7" y2="183.3" stroke="#555" stroke-width="0.7"/>
<text x="55.6" y="184.05" font-size="5.8" text-anchor="middle" fill="#333" font-weight="normal" stroke="#333" stroke-width="0.1">*</text>
<line x1="42.1" y1="186.4" x2="64.2" y2="186.4" stroke="#555" stroke-width="0.7"/>
<text x="53.5" y="187.15" font-size="5.8" text-anchor="middle" fill="#333" font-weight="normal" stroke="#333" stroke-width="0.1">*</text>
<line x1="42.1" y1="189.9" x2="59.7" y2="189.9" stroke="#555" stroke-width="0.7"/>
<text x="50.7" y="190.65" font-size="5.8" text-anchor="middle" fill="#333" font-weight="normal" stroke="#333" stroke-width="0.1">**</text>
<line x1="42.1" y1="193.4" x2="56.3" y2="193.4" stroke="#555" stroke-width="0.7"/>
<text x="49" y="194.15" font-size="5.8" text-anchor="middle" fill="#333" font-weight="normal" stroke="#333" stroke-width="0.1">*</text>
<line x1="42.1" y1="196.5" x2="49.3" y2="196.5" stroke="#555" stroke-width="0.7"/>
<text x="45.9" y="197.25" font-size="5.8" text-anchor="middle" fill="#333" font-weight="normal" stroke="#333" stroke-width="0.1">*</text>
<line x1="116.4" y1="150.5" x2="147.1" y2="150.5" stroke="#555" stroke-width="0.7"/>
<text x="131.4" y="151.25" font-size="5.8" text-anchor="middle" fill="#333" font-weight="normal" stroke="#333" stroke-width="0.1">**</text>
<line x1="116.4" y1="153.5" x2="143.5" y2="153.5" stroke="#555" stroke-width="0.7"/>
<text x="129.8" y="154.25" font-size="5.8" text-anchor="middle" fill="#333" font-weight="normal" stroke="#333" stroke-width="0.1">**</text>
<line x1="116.4" y1="157.3" x2="138.7" y2="157.3" stroke="#555" stroke-width="0.7"/>
<text x="127.8" y="158.05" font-size="5.8" text-anchor="middle" fill="#333" font-weight="normal" stroke="#333" stroke-width="0.1">***</text>
<line x1="116.4" y1="161" x2="134.2" y2="161" stroke="#555" stroke-width="0.7"/>
<text x="124.9" y="161.75" font-size="5.8" text-anchor="middle" fill="#333" font-weight="normal" stroke="#333" stroke-width="0.1">**</text>
<line x1="116.4" y1="164.4" x2="130.2" y2="164.4" stroke="#555" stroke-width="0.7"/>
<text x="123.3" y="165.15" font-size="5.8" text-anchor="middle" fill="#333" font-weight="normal" stroke="#333" stroke-width="0.1">***</text>
<line x1="120.1" y1="168.4" x2="149.6" y2="168.4" stroke="#555" stroke-width="0.7"/>
<text x="134.6" y="169.15" font-size="5.8" text-anchor="middle" fill="#333" font-weight="normal" stroke="#333" stroke-width="0.1">**</text>
<line x1="120.1" y1="172.1" x2="145.1" y2="172.1" stroke="#555" stroke-width="0.7"/>
<text x="132.2" y="172.85" font-size="5.8" text-anchor="middle" fill="#333" font-weight="normal" stroke="#333" stroke-width="0.1">*</text>
<line x1="120.1" y1="175.7" x2="134.6" y2="175.7" stroke="#555" stroke-width="0.7"/>
<text x="126.9" y="176.45" font-size="5.8" text-anchor="middle" fill="#333" font-weight="normal" stroke="#333" stroke-width="0.1">**</text>
<line x1="120.1" y1="179.3" x2="131.8" y2="179.3" stroke="#555" stroke-width="0.7"/>
<text x="125.3" y="180.05" font-size="5.8" text-anchor="middle" fill="#333" font-weight="normal" stroke="#333" stroke-width="0.1">*</text>
<line x1="120.1" y1="182.8" x2="126.9" y2="182.8" stroke="#555" stroke-width="0.7"/>
<text x="123.3" y="183.55" font-size="5.8" text-anchor="middle" fill="#333" font-weight="normal" stroke="#333" stroke-width="0.1">*</text>
<text x="250.2" y="145" font-size="9.7" text-anchor="middle" fill="#222" font-weight="normal" textLength="30" lengthAdjust="spacingAndGlyphs" stroke="#222" stroke-width="0.08">MIP-1a</text>
<line x1="193.1" y1="150.7" x2="193.1" y2="232.8" stroke="#2a2a2a" stroke-width="1.5"/>
<line x1="189.9" y1="232.3" x2="193.1" y2="232.3" stroke="#2a2a2a" stroke-width="1"/>
<text x="186.6" y="234.8" font-size="7" text-anchor="end" fill="#333" font-weight="normal" stroke="#333" stroke-width="0.18">0</text>
<line x1="189.9" y1="212.6" x2="193.1" y2="212.6" stroke="#2a2a2a" stroke-width="1"/>
<text x="186.6" y="215.1" font-size="7" text-anchor="end" fill="#333" font-weight="normal" stroke="#333" stroke-width="0.18">5</text>
<line x1="189.9" y1="192.9" x2="193.1" y2="192.9" stroke="#2a2a2a" stroke-width="1"/>
<text x="186.6" y="195.4" font-size="7" text-anchor="end" fill="#333" font-weight="normal" stroke="#333" stroke-width="0.18">10</text>
<line x1="189.9" y1="173.2" x2="193.1" y2="173.2" stroke="#2a2a2a" stroke-width="1"/>
<text x="186.6" y="175.7" font-size="7" text-anchor="end" fill="#333" font-weight="normal" stroke="#333" stroke-width="0.18">15</text>
<line x1="189.9" y1="153.5" x2="193.1" y2="153.5" stroke="#2a2a2a" stroke-width="1"/>
<text x="186.6" y="156" font-size="7" text-anchor="end" fill="#333" font-weight="normal" stroke="#333" stroke-width="0.18">20</text>
<line x1="192.6" y1="232.3" x2="305.2" y2="232.3" stroke="#2a2a2a" stroke-width="1.5"/>
<text x="174" y="191.5" font-size="9.2" text-anchor="middle" fill="#333" font-weight="normal" transform="rotate(-90 174 191.5)" textLength="19.2" lengthAdjust="spacingAndGlyphs" stroke="#333" stroke-width="0.12">pg/ml</text>
<line x1="211.8" y1="232.3" x2="211.8" y2="235.1" stroke="#2a2a2a" stroke-width="1"/>
<text x="211.8" y="244.7" font-size="7" text-anchor="middle" fill="#333" font-weight="normal" textLength="16.5" lengthAdjust="spacingAndGlyphs" stroke="#333" stroke-width="0.18">C1D1</text>
<line x1="196.47" y1="227.38" x2="196.47" y2="229.15" stroke="#5b2c0f" stroke-width="0.75" opacity="0.8"/>
<line x1="195.57" y1="227.38" x2="197.37" y2="227.38" stroke="#5b2c0f" stroke-width="0.6" opacity="0.8"/>
<rect x="195.17" y="229.15" width="2.6" height="3.15" fill="#5b2c0f"/>
<line x1="200.85" y1="229.15" x2="200.85" y2="229.94" stroke="#3aaa45" stroke-width="0.75" opacity="0.8"/>
<line x1="199.95" y1="229.15" x2="201.75" y2="229.15" stroke="#3aaa45" stroke-width="0.6" opacity="0.8"/>
<rect x="199.55" y="229.94" width="2.6" height="2.36" fill="#3aaa45"/>
<line x1="205.23" y1="226.19" x2="205.23" y2="228.36" stroke="#b8651f" stroke-width="0.75" opacity="0.8"/>
<line x1="204.33" y1="226.19" x2="206.13" y2="226.19" stroke="#b8651f" stroke-width="0.6" opacity="0.8"/>
<rect x="203.93" y="228.36" width="2.6" height="3.94" fill="#b8651f"/>
<line x1="209.61" y1="226.39" x2="209.61" y2="228.36" stroke="#d99a6a" stroke-width="0.75" opacity="0.8"/>
<line x1="208.71" y1="226.39" x2="210.51" y2="226.39" stroke="#d99a6a" stroke-width="0.6" opacity="0.8"/>
<rect x="208.31" y="228.36" width="2.6" height="3.94" fill="#d99a6a"/>
<line x1="213.99" y1="228.36" x2="213.99" y2="229.94" stroke="#f0d6bd" stroke-width="0.75" opacity="0.8"/>
<line x1="213.09" y1="228.36" x2="214.89" y2="228.36" stroke="#f0d6bd" stroke-width="0.6" opacity="0.8"/>
<rect x="212.69" y="229.94" width="2.6" height="2.36" fill="#f0d6bd"/>
<line x1="218.37" y1="225.8" x2="218.37" y2="227.57" stroke="#4b1660" stroke-width="0.75" opacity="0.8"/>
<line x1="217.47" y1="225.8" x2="219.27" y2="225.8" stroke="#4b1660" stroke-width="0.6" opacity="0.8"/>
<rect x="217.07" y="227.57" width="2.6" height="4.73" fill="#4b1660"/>
<line x1="222.75" y1="229.15" x2="222.75" y2="230.33" stroke="#8d6a9c" stroke-width="0.75" opacity="0.8"/>
<line x1="221.85" y1="229.15" x2="223.65" y2="229.15" stroke="#8d6a9c" stroke-width="0.6" opacity="0.8"/>
<rect x="221.45" y="230.33" width="2.6" height="1.97" fill="#8d6a9c"/>
<line x1="227.13" y1="226.78" x2="227.13" y2="228.36" stroke="#c9b5d5" stroke-width="0.75" opacity="0.8"/>
<line x1="226.23" y1="226.78" x2="228.03" y2="226.78" stroke="#c9b5d5" stroke-width="0.6" opacity="0.8"/>
<rect x="225.83" y="228.36" width="2.6" height="3.94" fill="#c9b5d5"/>
<line x1="249.75" y1="232.3" x2="249.75" y2="235.1" stroke="#2a2a2a" stroke-width="1"/>
<text x="249.75" y="244.7" font-size="7" text-anchor="middle" fill="#333" font-weight="normal" textLength="16.5" lengthAdjust="spacingAndGlyphs" stroke="#333" stroke-width="0.18">C1D8</text>
<line x1="234.42" y1="226" x2="234.42" y2="228.36" stroke="#5b2c0f" stroke-width="0.75" opacity="0.8"/>
<line x1="233.52" y1="226" x2="235.32" y2="226" stroke="#5b2c0f" stroke-width="0.6" opacity="0.8"/>
<rect x="233.12" y="228.36" width="2.6" height="3.94" fill="#5b2c0f"/>
<line x1="238.8" y1="202.75" x2="238.8" y2="214.57" stroke="#3aaa45" stroke-width="0.75" opacity="0.8"/>
<line x1="237.9" y1="202.75" x2="239.7" y2="202.75" stroke="#3aaa45" stroke-width="0.6" opacity="0.8"/>
<rect x="237.5" y="214.57" width="2.6" height="17.73" fill="#3aaa45"/>
<line x1="243.18" y1="229.15" x2="243.18" y2="230.33" stroke="#b8651f" stroke-width="0.75" opacity="0.8"/>
<line x1="242.28" y1="229.15" x2="244.08" y2="229.15" stroke="#b8651f" stroke-width="0.6" opacity="0.8"/>
<rect x="241.88" y="230.33" width="2.6" height="1.97" fill="#b8651f"/>
<line x1="247.56" y1="222.45" x2="247.56" y2="226.39" stroke="#d99a6a" stroke-width="0.75" opacity="0.8"/>
<line x1="246.66" y1="222.45" x2="248.46" y2="222.45" stroke="#d99a6a" stroke-width="0.6" opacity="0.8"/>
<rect x="246.26" y="226.39" width="2.6" height="5.91" fill="#d99a6a"/>
<line x1="251.94" y1="185.02" x2="251.94" y2="198.81" stroke="#f0d6bd" stroke-width="0.75" opacity="0.8"/>
<line x1="251.04" y1="185.02" x2="252.84" y2="185.02" stroke="#f0d6bd" stroke-width="0.6" opacity="0.8"/>
<rect x="250.64" y="198.81" width="2.6" height="33.49" fill="#f0d6bd"/>
<line x1="256.32" y1="226" x2="256.32" y2="228.36" stroke="#4b1660" stroke-width="0.75" opacity="0.8"/>
<line x1="255.42" y1="226" x2="257.22" y2="226" stroke="#4b1660" stroke-width="0.6" opacity="0.8"/>
<rect x="255.02" y="228.36" width="2.6" height="3.94" fill="#4b1660"/>
<line x1="260.7" y1="202.75" x2="260.7" y2="207.48" stroke="#8d6a9c" stroke-width="0.75" opacity="0.8"/>
<line x1="259.8" y1="202.75" x2="261.6" y2="202.75" stroke="#8d6a9c" stroke-width="0.6" opacity="0.8"/>
<rect x="259.4" y="207.48" width="2.6" height="24.82" fill="#8d6a9c"/>
<line x1="265.08" y1="196.84" x2="265.08" y2="201.96" stroke="#c9b5d5" stroke-width="0.75" opacity="0.8"/>
<line x1="264.18" y1="196.84" x2="265.98" y2="196.84" stroke="#c9b5d5" stroke-width="0.6" opacity="0.8"/>
<rect x="263.78" y="201.96" width="2.6" height="30.34" fill="#c9b5d5"/>
<line x1="287.7" y1="232.3" x2="287.7" y2="235.1" stroke="#2a2a2a" stroke-width="1"/>
<text x="287.7" y="244.7" font-size="7" text-anchor="middle" fill="#333" font-weight="normal" textLength="20.4" lengthAdjust="spacingAndGlyphs" stroke="#333" stroke-width="0.18">C1D15</text>
<line x1="272.37" y1="226.39" x2="272.37" y2="228.36" stroke="#5b2c0f" stroke-width="0.75" opacity="0.8"/>
<line x1="271.47" y1="226.39" x2="273.27" y2="226.39" stroke="#5b2c0f" stroke-width="0.6" opacity="0.8"/>
<rect x="271.07" y="228.36" width="2.6" height="3.94" fill="#5b2c0f"/>
<line x1="276.75" y1="200.78" x2="276.75" y2="209.05" stroke="#3aaa45" stroke-width="0.75" opacity="0.8"/>
<line x1="275.85" y1="200.78" x2="277.65" y2="200.78" stroke="#3aaa45" stroke-width="0.6" opacity="0.8"/>
<rect x="275.45" y="209.05" width="2.6" height="23.25" fill="#3aaa45"/>
<line x1="281.13" y1="226.78" x2="281.13" y2="228.36" stroke="#b8651f" stroke-width="0.75" opacity="0.8"/>
<line x1="280.23" y1="226.78" x2="282.03" y2="226.78" stroke="#b8651f" stroke-width="0.6" opacity="0.8"/>
<rect x="279.83" y="228.36" width="2.6" height="3.94" fill="#b8651f"/>
<line x1="285.51" y1="218.51" x2="285.51" y2="223.24" stroke="#d99a6a" stroke-width="0.75" opacity="0.8"/>
<line x1="284.61" y1="218.51" x2="286.41" y2="218.51" stroke="#d99a6a" stroke-width="0.6" opacity="0.8"/>
<rect x="284.21" y="223.24" width="2.6" height="9.06" fill="#d99a6a"/>
<line x1="289.89" y1="204.72" x2="289.89" y2="211.81" stroke="#f0d6bd" stroke-width="0.75" opacity="0.8"/>
<line x1="288.99" y1="204.72" x2="290.79" y2="204.72" stroke="#f0d6bd" stroke-width="0.6" opacity="0.8"/>
<rect x="288.59" y="211.81" width="2.6" height="20.49" fill="#f0d6bd"/>
<line x1="294.27" y1="206.69" x2="294.27" y2="218.12" stroke="#4b1660" stroke-width="0.75" opacity="0.8"/>
<line x1="293.37" y1="206.69" x2="295.17" y2="206.69" stroke="#4b1660" stroke-width="0.6" opacity="0.8"/>
<rect x="292.97" y="218.12" width="2.6" height="14.18" fill="#4b1660"/>
<line x1="298.65" y1="216.54" x2="298.65" y2="220.48" stroke="#8d6a9c" stroke-width="0.75" opacity="0.8"/>
<line x1="297.75" y1="216.54" x2="299.55" y2="216.54" stroke="#8d6a9c" stroke-width="0.6" opacity="0.8"/>
<rect x="297.35" y="220.48" width="2.6" height="11.82" fill="#8d6a9c"/>
<line x1="303.03" y1="169.26" x2="303.03" y2="183.84" stroke="#c9b5d5" stroke-width="0.75" opacity="0.8"/>
<line x1="302.13" y1="169.26" x2="303.93" y2="169.26" stroke="#c9b5d5" stroke-width="0.6" opacity="0.8"/>
<rect x="301.73" y="183.84" width="2.6" height="48.46" fill="#c9b5d5"/>
<line x1="297.9" y1="157.5" x2="302.9" y2="157.5" stroke="#555" stroke-width="0.7"/>
<text x="300.5" y="158.25" font-size="5.8" text-anchor="middle" fill="#333" font-weight="normal" stroke="#333" stroke-width="0.1">*</text>
<line x1="287.4" y1="160.5" x2="302.9" y2="160.5" stroke="#555" stroke-width="0.7"/>
<text x="295.5" y="161.25" font-size="5.8" text-anchor="middle" fill="#333" font-weight="normal" stroke="#333" stroke-width="0.1">*</text>
<line x1="280.1" y1="164.6" x2="302.9" y2="164.6" stroke="#555" stroke-width="0.7"/>
<text x="292.1" y="165.35" font-size="5.8" text-anchor="middle" fill="#333" font-weight="normal" stroke="#333" stroke-width="0.1">**</text>
<line x1="274.9" y1="167.8" x2="302.9" y2="167.8" stroke="#555" stroke-width="0.7"/>
<text x="289.4" y="168.55" font-size="5.8" text-anchor="middle" fill="#333" font-weight="normal" stroke="#333" stroke-width="0.1">*</text>
<text x="404.55" y="145.3" font-size="9.7" text-anchor="middle" fill="#222" font-weight="normal" textLength="14.7" lengthAdjust="spacingAndGlyphs" stroke="#222" stroke-width="0.08">IL-8</text>
<line x1="347.9" y1="151.5" x2="347.9" y2="232.8" stroke="#2a2a2a" stroke-width="1.5"/>
<line x1="344.7" y1="232.3" x2="347.9" y2="232.3" stroke="#2a2a2a" stroke-width="1"/>
<text x="341.4" y="234.8" font-size="7" text-anchor="end" fill="#333" font-weight="normal" stroke="#333" stroke-width="0.18">0</text>
<line x1="344.7" y1="206.3" x2="347.9" y2="206.3" stroke="#2a2a2a" stroke-width="1"/>
<text x="341.4" y="208.8" font-size="7" text-anchor="end" fill="#333" font-weight="normal" stroke="#333" stroke-width="0.18">50</text>
<line x1="344.7" y1="180.3" x2="347.9" y2="180.3" stroke="#2a2a2a" stroke-width="1"/>
<text x="341.4" y="182.8" font-size="7" text-anchor="end" fill="#333" font-weight="normal" stroke="#333" stroke-width="0.18">100</text>
<line x1="344.7" y1="154.3" x2="347.9" y2="154.3" stroke="#2a2a2a" stroke-width="1"/>
<text x="341.4" y="156.8" font-size="7" text-anchor="end" fill="#333" font-weight="normal" stroke="#333" stroke-width="0.18">150</text>
<line x1="347.4" y1="232.3" x2="460.4" y2="232.3" stroke="#2a2a2a" stroke-width="1.5"/>
<text x="324.6" y="191.5" font-size="9.2" text-anchor="middle" fill="#333" font-weight="normal" transform="rotate(-90 324.6 191.5)" textLength="19.2" lengthAdjust="spacingAndGlyphs" stroke="#333" stroke-width="0.12">pg/ml</text>
<line x1="366" y1="232.3" x2="366" y2="235.1" stroke="#2a2a2a" stroke-width="1"/>
<text x="366" y="244.7" font-size="7" text-anchor="middle" fill="#333" font-weight="normal" textLength="16.5" lengthAdjust="spacingAndGlyphs" stroke="#333" stroke-width="0.18">C1D1</text>
<line x1="350.67" y1="228.14" x2="350.67" y2="229.7" stroke="#5b2c0f" stroke-width="0.75" opacity="0.8"/>
<line x1="349.77" y1="228.14" x2="351.57" y2="228.14" stroke="#5b2c0f" stroke-width="0.6" opacity="0.8"/>
<rect x="349.37" y="229.7" width="2.6" height="2.6" fill="#5b2c0f"/>
<line x1="355.05" y1="231.26" x2="355.05" y2="231.78" stroke="#3aaa45" stroke-width="0.75" opacity="0.8"/>
<line x1="354.15" y1="231.26" x2="355.95" y2="231.26" stroke="#3aaa45" stroke-width="0.6" opacity="0.8"/>
<rect x="353.75" y="231.78" width="2.6" height="0.52" fill="#3aaa45"/>
<line x1="359.43" y1="228.66" x2="359.43" y2="229.7" stroke="#b8651f" stroke-width="0.75" opacity="0.8"/>
<line x1="358.53" y1="228.66" x2="360.33" y2="228.66" stroke="#b8651f" stroke-width="0.6" opacity="0.8"/>
<rect x="358.13" y="229.7" width="2.6" height="2.6" fill="#b8651f"/>
<line x1="363.81" y1="229.18" x2="363.81" y2="230.22" stroke="#d99a6a" stroke-width="0.75" opacity="0.8"/>
<line x1="362.91" y1="229.18" x2="364.71" y2="229.18" stroke="#d99a6a" stroke-width="0.6" opacity="0.8"/>
<rect x="362.51" y="230.22" width="2.6" height="2.08" fill="#d99a6a"/>
<line x1="368.19" y1="230.74" x2="368.19" y2="231.26" stroke="#f0d6bd" stroke-width="0.75" opacity="0.8"/>
<line x1="367.29" y1="230.74" x2="369.09" y2="230.74" stroke="#f0d6bd" stroke-width="0.6" opacity="0.8"/>
<rect x="366.89" y="231.26" width="2.6" height="1.04" fill="#f0d6bd"/>
<line x1="372.57" y1="229.7" x2="372.57" y2="230.74" stroke="#4b1660" stroke-width="0.75" opacity="0.8"/>
<line x1="371.67" y1="229.7" x2="373.47" y2="229.7" stroke="#4b1660" stroke-width="0.6" opacity="0.8"/>
<rect x="371.27" y="230.74" width="2.6" height="1.56" fill="#4b1660"/>
<line x1="376.95" y1="230.22" x2="376.95" y2="230.74" stroke="#8d6a9c" stroke-width="0.75" opacity="0.8"/>
<line x1="376.05" y1="230.22" x2="377.85" y2="230.22" stroke="#8d6a9c" stroke-width="0.6" opacity="0.8"/>
<rect x="375.65" y="230.74" width="2.6" height="1.56" fill="#8d6a9c"/>
<line x1="381.33" y1="230.22" x2="381.33" y2="231.26" stroke="#c9b5d5" stroke-width="0.75" opacity="0.8"/>
<line x1="380.43" y1="230.22" x2="382.23" y2="230.22" stroke="#c9b5d5" stroke-width="0.6" opacity="0.8"/>
<rect x="380.03" y="231.26" width="2.6" height="1.04" fill="#c9b5d5"/>
<line x1="404.05" y1="232.3" x2="404.05" y2="235.1" stroke="#2a2a2a" stroke-width="1"/>
<text x="404.05" y="244.7" font-size="7" text-anchor="middle" fill="#333" font-weight="normal" textLength="16.5" lengthAdjust="spacingAndGlyphs" stroke="#333" stroke-width="0.18">C1D8</text>
<line x1="388.72" y1="227.62" x2="388.72" y2="228.24" stroke="#5b2c0f" stroke-width="0.75" opacity="0.8"/>
<line x1="387.82" y1="227.62" x2="389.62" y2="227.62" stroke="#5b2c0f" stroke-width="0.6" opacity="0.8"/>
<rect x="387.42" y="228.24" width="2.6" height="4.06" fill="#5b2c0f"/>
<line x1="393.1" y1="215.14" x2="393.1" y2="221.64" stroke="#3aaa45" stroke-width="0.75" opacity="0.8"/>
<line x1="392.2" y1="215.14" x2="394" y2="215.14" stroke="#3aaa45" stroke-width="0.6" opacity="0.8"/>
<rect x="391.8" y="221.64" width="2.6" height="10.66" fill="#3aaa45"/>
<line x1="397.48" y1="225.54" x2="397.48" y2="227.41" stroke="#b8651f" stroke-width="0.75" opacity="0.8"/>
<line x1="396.58" y1="225.54" x2="398.38" y2="225.54" stroke="#b8651f" stroke-width="0.6" opacity="0.8"/>
<rect x="396.18" y="227.41" width="2.6" height="4.89" fill="#b8651f"/>
<line x1="401.86" y1="223.98" x2="401.86" y2="224.66" stroke="#d99a6a" stroke-width="0.75" opacity="0.8"/>
<line x1="400.96" y1="223.98" x2="402.76" y2="223.98" stroke="#d99a6a" stroke-width="0.6" opacity="0.8"/>
<rect x="400.56" y="224.66" width="2.6" height="7.64" fill="#d99a6a"/>
<line x1="406.24" y1="216.7" x2="406.24" y2="224.14" stroke="#f0d6bd" stroke-width="0.75" opacity="0.8"/>
<line x1="405.34" y1="216.7" x2="407.14" y2="216.7" stroke="#f0d6bd" stroke-width="0.6" opacity="0.8"/>
<rect x="404.94" y="224.14" width="2.6" height="8.16" fill="#f0d6bd"/>
<line x1="410.62" y1="228.66" x2="410.62" y2="229.49" stroke="#4b1660" stroke-width="0.75" opacity="0.8"/>
<line x1="409.72" y1="228.66" x2="411.52" y2="228.66" stroke="#4b1660" stroke-width="0.6" opacity="0.8"/>
<rect x="409.32" y="229.49" width="2.6" height="2.81" fill="#4b1660"/>
<line x1="415" y1="228.14" x2="415" y2="228.5" stroke="#8d6a9c" stroke-width="0.75" opacity="0.8"/>
<line x1="414.1" y1="228.14" x2="415.9" y2="228.14" stroke="#8d6a9c" stroke-width="0.6" opacity="0.8"/>
<rect x="413.7" y="228.5" width="2.6" height="3.8" fill="#8d6a9c"/>
<line x1="419.38" y1="220.08" x2="419.38" y2="224.14" stroke="#c9b5d5" stroke-width="0.75" opacity="0.8"/>
<line x1="418.48" y1="220.08" x2="420.28" y2="220.08" stroke="#c9b5d5" stroke-width="0.6" opacity="0.8"/>
<rect x="418.08" y="224.14" width="2.6" height="8.16" fill="#c9b5d5"/>
<line x1="442.1" y1="232.3" x2="442.1" y2="235.1" stroke="#2a2a2a" stroke-width="1"/>
<text x="442.1" y="244.7" font-size="7" text-anchor="middle" fill="#333" font-weight="normal" textLength="20.4" lengthAdjust="spacingAndGlyphs" stroke="#333" stroke-width="0.18">C1D15</text>
<line x1="426.77" y1="228.14" x2="426.77" y2="229.02" stroke="#5b2c0f" stroke-width="0.75" opacity="0.8"/>
<line x1="425.87" y1="228.14" x2="427.67" y2="228.14" stroke="#5b2c0f" stroke-width="0.6" opacity="0.8"/>
<rect x="425.47" y="229.02" width="2.6" height="3.28" fill="#5b2c0f"/>
<line x1="431.15" y1="160.02" x2="431.15" y2="168.86" stroke="#3aaa45" stroke-width="0.75" opacity="0.8"/>
<line x1="430.25" y1="160.02" x2="432.05" y2="160.02" stroke="#3aaa45" stroke-width="0.6" opacity="0.8"/>
<rect x="429.85" y="168.86" width="2.6" height="63.44" fill="#3aaa45"/>
<line x1="435.53" y1="226.06" x2="435.53" y2="227.41" stroke="#b8651f" stroke-width="0.75" opacity="0.8"/>
<line x1="434.63" y1="226.06" x2="436.43" y2="226.06" stroke="#b8651f" stroke-width="0.6" opacity="0.8"/>
<rect x="434.23" y="227.41" width="2.6" height="4.89" fill="#b8651f"/>
<line x1="439.91" y1="220.08" x2="439.91" y2="223.36" stroke="#d99a6a" stroke-width="0.75" opacity="0.8"/>
<line x1="439.01" y1="220.08" x2="440.81" y2="220.08" stroke="#d99a6a" stroke-width="0.6" opacity="0.8"/>
<rect x="438.61" y="223.36" width="2.6" height="8.94" fill="#d99a6a"/>
<line x1="444.29" y1="193.98" x2="444.29" y2="204.74" stroke="#f0d6bd" stroke-width="0.75" opacity="0.8"/>
<line x1="443.39" y1="193.98" x2="445.19" y2="193.98" stroke="#f0d6bd" stroke-width="0.6" opacity="0.8"/>
<rect x="442.99" y="204.74" width="2.6" height="27.56" fill="#f0d6bd"/>
<line x1="448.67" y1="226.58" x2="448.67" y2="228.5" stroke="#4b1660" stroke-width="0.75" opacity="0.8"/>
<line x1="447.77" y1="226.58" x2="449.57" y2="226.58" stroke="#4b1660" stroke-width="0.6" opacity="0.8"/>
<rect x="447.37" y="228.5" width="2.6" height="3.8" fill="#4b1660"/>
<line x1="453.05" y1="215.14" x2="453.05" y2="221.38" stroke="#8d6a9c" stroke-width="0.75" opacity="0.8"/>
<line x1="452.15" y1="215.14" x2="453.95" y2="215.14" stroke="#8d6a9c" stroke-width="0.6" opacity="0.8"/>
<rect x="451.75" y="221.38" width="2.6" height="10.92" fill="#8d6a9c"/>
<line x1="457.43" y1="163.14" x2="457.43" y2="186.02" stroke="#c9b5d5" stroke-width="0.75" opacity="0.8"/>
<line x1="456.53" y1="163.14" x2="458.33" y2="163.14" stroke="#c9b5d5" stroke-width="0.6" opacity="0.8"/>
<rect x="456.13" y="186.02" width="2.6" height="46.28" fill="#c9b5d5"/>
<line x1="432.1" y1="142.3" x2="452.7" y2="142.3" stroke="#555" stroke-width="0.7"/>
<text x="443" y="143.05" font-size="5.8" text-anchor="middle" fill="#333" font-weight="normal" stroke="#333" stroke-width="0.1">*</text>
<line x1="432.1" y1="146.3" x2="446" y2="146.3" stroke="#555" stroke-width="0.7"/>
<text x="439.2" y="147.05" font-size="5.8" text-anchor="middle" fill="#333" font-weight="normal" stroke="#333" stroke-width="0.1">*</text>
<line x1="432.1" y1="149.9" x2="442.2" y2="149.9" stroke="#555" stroke-width="0.7"/>
<text x="437.4" y="150.65" font-size="5.8" text-anchor="middle" fill="#333" font-weight="normal" stroke="#333" stroke-width="0.1">**</text>
<line x1="432.1" y1="153.4" x2="439.4" y2="153.4" stroke="#555" stroke-width="0.7"/>
<text x="436.6" y="154.15" font-size="5.8" text-anchor="middle" fill="#333" font-weight="normal" stroke="#333" stroke-width="0.1">*</text>
<line x1="424.4" y1="157.2" x2="430.9" y2="157.2" stroke="#555" stroke-width="0.7"/>
<text x="427.7" y="157.95" font-size="5.8" text-anchor="middle" fill="#333" font-weight="normal" stroke="#333" stroke-width="0.1">*</text>
<line x1="432.1" y1="157.2" x2="437.9" y2="157.2" stroke="#555" stroke-width="0.7"/>
<text x="434.9" y="157.95" font-size="5.8" text-anchor="middle" fill="#333" font-weight="normal" stroke="#333" stroke-width="0.1">***</text>
<line x1="446.7" y1="157.2" x2="457.6" y2="157.2" stroke="#555" stroke-width="0.7"/>
<text x="452.5" y="157.95" font-size="5.8" text-anchor="middle" fill="#333" font-weight="normal" stroke="#333" stroke-width="0.1">*</text>
<rect x="87.2" y="264.1" width="9.5" height="3.6" fill="#5b2c0f"/>
<text x="99.9" y="268.4" font-size="7" text-anchor="start" fill="#333" font-weight="normal" stroke="#333" stroke-width="0.18">Vehicle</text>
<rect x="251.5" y="264.1" width="9.5" height="3.6" fill="#3aaa45"/>
<text x="264.8" y="268.4" font-size="7" text-anchor="start" fill="#333" font-weight="normal" textLength="128.2" lengthAdjust="spacingAndGlyphs" stroke="#333" stroke-width="0.18">Forimtamig sc 0,0005, 0,002, 0,04 mg/kg</text>
<rect x="87.2" y="275" width="9.5" height="3.6" fill="#b8651f"/>
<text x="99.9" y="279.3" font-size="7" text-anchor="start" fill="#333" font-weight="normal" textLength="144.8" lengthAdjust="spacingAndGlyphs" stroke="#333" stroke-width="0.18">Forimtamig sc + Mezigdomide 3mg/kg (5q7d)</text>
<rect x="251.5" y="275" width="9.5" height="3.6" fill="#4b1660"/>
<text x="264.8" y="279.3" font-size="7" text-anchor="start" fill="#333" font-weight="normal" textLength="144" lengthAdjust="spacingAndGlyphs" stroke="#333" stroke-width="0.18">Forimtamig sc + Mezigdomide 1mg/kg (5q7d)</text>
<rect x="87.2" y="285.6" width="9.5" height="3.6" fill="#d99a6a"/>
<text x="99.9" y="289.9" font-size="7" text-anchor="start" fill="#333" font-weight="normal" textLength="144.8" lengthAdjust="spacingAndGlyphs" stroke="#333" stroke-width="0.18">Forimtamig sc + Mezigdomide 3mg/kg (3q7d)</text>
<rect x="251.5" y="285.6" width="9.5" height="3.6" fill="#8d6a9c"/>
<text x="264.8" y="289.9" font-size="7" text-anchor="start" fill="#333" font-weight="normal" textLength="144" lengthAdjust="spacingAndGlyphs" stroke="#333" stroke-width="0.18">Forimtamig sc + Mezigdomide 1mg/kg (3q7d)</text>
<rect x="87.2" y="296.4" width="9.5" height="3.6" fill="#f0d6bd"/>
<text x="99.9" y="300.7" font-size="7" text-anchor="start" fill="#333" font-weight="normal" textLength="144.8" lengthAdjust="spacingAndGlyphs" stroke="#333" stroke-width="0.18">Forimtamig sc + Mezigdomide 3mg/kg (1q7d)</text>
<rect x="251.5" y="296.4" width="9.5" height="3.6" fill="#c9b5d5"/>
<text x="264.8" y="300.7" font-size="7" text-anchor="start" fill="#333" font-weight="normal" textLength="144" lengthAdjust="spacingAndGlyphs" stroke="#333" stroke-width="0.18">Forimtamig sc + Mezigdomide 1mg/kg (1q7d)</text>
<text x="9.3" y="322.5" font-size="12.7" text-anchor="start" fill="#111" font-weight="bold" stroke="#111" stroke-width="0.45">G</text>
<line x1="52.8" y1="329.5" x2="52.8" y2="431.5" stroke="#222" stroke-width="1.5"/>
<line x1="52.3" y1="431" x2="87.5" y2="431" stroke="#222" stroke-width="1.5"/>
<line x1="49.3" y1="431" x2="52.8" y2="431" stroke="#222" stroke-width="1"/>
<text x="45.8" y="433.4" font-size="6.8" text-anchor="end" fill="#333" font-weight="normal" textLength="3.5" lengthAdjust="spacingAndGlyphs" stroke="#333" stroke-width="0.18">0</text>
<line x1="49.3" y1="411.2" x2="52.8" y2="411.2" stroke="#222" stroke-width="1"/>
<text x="45.8" y="413.6" font-size="6.8" text-anchor="end" fill="#333" font-weight="normal" textLength="7" lengthAdjust="spacingAndGlyphs" stroke="#333" stroke-width="0.18">20</text>
<line x1="49.3" y1="391.4" x2="52.8" y2="391.4" stroke="#222" stroke-width="1"/>
<text x="45.8" y="393.8" font-size="6.8" text-anchor="end" fill="#333" font-weight="normal" textLength="7" lengthAdjust="spacingAndGlyphs" stroke="#333" stroke-width="0.18">40</text>
<line x1="49.3" y1="371.6" x2="52.8" y2="371.6" stroke="#222" stroke-width="1"/>
<text x="45.8" y="374" font-size="6.8" text-anchor="end" fill="#333" font-weight="normal" textLength="7" lengthAdjust="spacingAndGlyphs" stroke="#333" stroke-width="0.18">60</text>
<line x1="49.3" y1="351.8" x2="52.8" y2="351.8" stroke="#222" stroke-width="1"/>
<text x="45.8" y="354.2" font-size="6.8" text-anchor="end" fill="#333" font-weight="normal" textLength="7" lengthAdjust="spacingAndGlyphs" stroke="#333" stroke-width="0.18">80</text>
<line x1="49.3" y1="332" x2="52.8" y2="332" stroke="#222" stroke-width="1"/>
<text x="45.8" y="334.4" font-size="6.8" text-anchor="end" fill="#333" font-weight="normal" textLength="10.5" lengthAdjust="spacingAndGlyphs" stroke="#333" stroke-width="0.18">100</text>
<rect x="55.6" y="430.01" width="6.2" height="0.99" fill="#6b3a12"/>
<line x1="58.7" y1="429.02" x2="58.7" y2="430.31" stroke="#777" stroke-width="0.8"/>
<line x1="57.5" y1="429.02" x2="59.9" y2="429.02" stroke="#777" stroke-width="0.8"/>
<rect x="66.5" y="428.03" width="6.2" height="2.97" fill="#3dae40"/>
<line x1="69.6" y1="425.56" x2="69.6" y2="428.33" stroke="#777" stroke-width="0.8"/>
<line x1="68.4" y1="425.56" x2="70.8" y2="425.56" stroke="#777" stroke-width="0.8"/>
<rect x="77.8" y="372.59" width="6.2" height="58.41" fill="#531a68"/>
<line x1="80.9" y1="349.82" x2="80.9" y2="372.89" stroke="#777" stroke-width="0.8"/>
<line x1="79.7" y1="349.82" x2="82.1" y2="349.82" stroke="#777" stroke-width="0.8"/>
<line x1="59.5" y1="343.6" x2="80.5" y2="343.6" stroke="#666" stroke-width="0.8"/>
<text x="70" y="343" font-size="5.8" text-anchor="middle" fill="#333" font-weight="normal" stroke="#333" stroke-width="0.1">*</text>
<text x="16.8" y="380" font-size="8.2" text-anchor="middle" fill="#333" font-weight="normal" transform="rotate(-90 16.8 380)" textLength="70" lengthAdjust="spacingAndGlyphs" stroke="#333" stroke-width="0.18">CD3+ T cells in tumor</text>
<text x="26.9" y="380.3" font-size="8.2" text-anchor="middle" fill="#333" font-weight="normal" transform="rotate(-90 26.9 380.3)" textLength="61.5" lengthAdjust="spacingAndGlyphs" stroke="#333" stroke-width="0.18">[counts/mg tumor]</text>
<line x1="137.9" y1="329.3" x2="137.9" y2="431.9" stroke="#222" stroke-width="1.5"/>
<line x1="137.4" y1="431.4" x2="219" y2="431.4" stroke="#222" stroke-width="1.5"/>
<line x1="134.4" y1="431.4" x2="137.9" y2="431.4" stroke="#222" stroke-width="1"/>
<text x="131.4" y="433.8" font-size="6.8" text-anchor="end" fill="#333" font-weight="normal" textLength="3.6" lengthAdjust="spacingAndGlyphs" stroke="#333" stroke-width="0.18">0</text>
<line x1="134.4" y1="382.1" x2="137.9" y2="382.1" stroke="#222" stroke-width="1"/>
<text x="131.4" y="384.5" font-size="6.8" text-anchor="end" fill="#333" font-weight="normal" textLength="7.2" lengthAdjust="spacingAndGlyphs" stroke="#333" stroke-width="0.18">50</text>
<line x1="134.4" y1="332.8" x2="137.9" y2="332.8" stroke="#222" stroke-width="1"/>
<text x="131.4" y="335.2" font-size="6.8" text-anchor="end" fill="#333" font-weight="normal" textLength="10.8" lengthAdjust="spacingAndGlyphs" stroke="#333" stroke-width="0.18">100</text>
<rect x="140.5" y="401.82" width="4.2" height="29.58" fill="#6b3a12"/>
<line x1="142.6" y1="394.92" x2="142.6" y2="402.12" stroke="#777" stroke-width="0.8"/>
<line x1="141.4" y1="394.92" x2="143.8" y2="394.92" stroke="#777" stroke-width="0.8"/>
<rect x="148.6" y="368.3" width="4.2" height="63.1" fill="#3dae40"/>
<line x1="150.7" y1="360.41" x2="150.7" y2="368.6" stroke="#777" stroke-width="0.8"/>
<line x1="149.5" y1="360.41" x2="151.9" y2="360.41" stroke="#777" stroke-width="0.8"/>
<rect x="156.1" y="391.96" width="4.2" height="39.44" fill="#531a68"/>
<line x1="158.2" y1="386.04" x2="158.2" y2="392.26" stroke="#777" stroke-width="0.8"/>
<line x1="157" y1="386.04" x2="159.4" y2="386.04" stroke="#777" stroke-width="0.8"/>
<rect x="169.3" y="430.41" width="4.2" height="0.99" fill="#6b3a12"/>
<line x1="171.4" y1="429.43" x2="171.4" y2="430.71" stroke="#777" stroke-width="0.8"/>
<line x1="170.2" y1="429.43" x2="172.6" y2="429.43" stroke="#777" stroke-width="0.8"/>
<rect x="177.1" y="430.41" width="4.2" height="0.99" fill="#3dae40"/>
<line x1="179.2" y1="427.46" x2="179.2" y2="430.71" stroke="#777" stroke-width="0.8"/>
<line x1="178" y1="427.46" x2="180.4" y2="427.46" stroke="#777" stroke-width="0.8"/>
<rect x="184.3" y="399.85" width="4.2" height="31.55" fill="#531a68"/>
<line x1="186.4" y1="385.06" x2="186.4" y2="400.15" stroke="#777" stroke-width="0.8"/>
<line x1="185.2" y1="385.06" x2="187.6" y2="385.06" stroke="#777" stroke-width="0.8"/>
<rect x="197.3" y="350.55" width="4.2" height="80.85" fill="#6b3a12"/>
<line x1="199.4" y1="346.6" x2="199.4" y2="350.85" stroke="#777" stroke-width="0.8"/>
<line x1="198.2" y1="346.6" x2="200.6" y2="346.6" stroke="#777" stroke-width="0.8"/>
<rect x="204.8" y="340.69" width="4.2" height="90.71" fill="#3dae40"/>
<line x1="206.9" y1="338.72" x2="206.9" y2="340.99" stroke="#777" stroke-width="0.8"/>
<line x1="205.7" y1="338.72" x2="208.1" y2="338.72" stroke="#777" stroke-width="0.8"/>
<rect x="212.6" y="345.62" width="4.2" height="85.78" fill="#531a68"/>
<line x1="214.7" y1="339.7" x2="214.7" y2="345.92" stroke="#777" stroke-width="0.8"/>
<line x1="213.5" y1="339.7" x2="215.9" y2="339.7" stroke="#777" stroke-width="0.8"/>
<text x="149.1" y="444.4" font-size="7" text-anchor="middle" fill="#333" font-weight="normal" stroke="#333" stroke-width="0.18">CD69</text>
<line x1="149.1" y1="431.4" x2="149.1" y2="433.9" stroke="#222" stroke-width="1"/>
<text x="178" y="444.4" font-size="7" text-anchor="middle" fill="#333" font-weight="normal" stroke="#333" stroke-width="0.18">GzmB</text>
<line x1="178" y1="431.4" x2="178" y2="433.9" stroke="#222" stroke-width="1"/>
<text x="205.4" y="444.4" font-size="7" text-anchor="middle" fill="#333" font-weight="normal" stroke="#333" stroke-width="0.18">PD-1</text>
<line x1="205.4" y1="431.4" x2="205.4" y2="433.9" stroke="#222" stroke-width="1"/>
<line x1="140.5" y1="336.9" x2="150.6" y2="336.9" stroke="#666" stroke-width="0.8"/>
<text x="145.55" y="336.3" font-size="5.8" text-anchor="middle" fill="#333" font-weight="normal" stroke="#333" stroke-width="0.1">*</text>
<line x1="172.8" y1="375.6" x2="180" y2="375.6" stroke="#666" stroke-width="0.8"/>
<text x="176.4" y="375" font-size="5.8" text-anchor="middle" fill="#333" font-weight="normal" stroke="#333" stroke-width="0.1">*</text>
<line x1="172.8" y1="380.2" x2="186.6" y2="380.2" stroke="#666" stroke-width="0.8"/>
<text x="179.7" y="379.6" font-size="5.8" text-anchor="middle" fill="#333" font-weight="normal" stroke="#333" stroke-width="0.1">*</text>
<text x="101.8" y="380.8" font-size="8.2" text-anchor="middle" fill="#333" font-weight="normal" transform="rotate(-90 101.8 380.8)" textLength="68.3" lengthAdjust="spacingAndGlyphs" stroke="#333" stroke-width="0.18">Frequency of positive</text>
<text x="113" y="379.9" font-size="8.2" text-anchor="middle" fill="#333" font-weight="normal" transform="rotate(-90 113 379.9)" textLength="54.2" lengthAdjust="spacingAndGlyphs" stroke="#333" stroke-width="0.18">CD4+ T cells [%]</text>
<line x1="269.4" y1="329.5" x2="269.4" y2="432" stroke="#222" stroke-width="1.5"/>
<line x1="268.9" y1="431.5" x2="350.6" y2="431.5" stroke="#222" stroke-width="1.5"/>
<line x1="265.9" y1="431.5" x2="269.4" y2="431.5" stroke="#222" stroke-width="1"/>
<text x="262.9" y="433.9" font-size="6.8" text-anchor="end" fill="#333" font-weight="normal" textLength="3.6" lengthAdjust="spacingAndGlyphs" stroke="#333" stroke-width="0.18">0</text>
<line x1="265.9" y1="382.25" x2="269.4" y2="382.25" stroke="#222" stroke-width="1"/>
<text x="262.9" y="384.65" font-size="6.8" text-anchor="end" fill="#333" font-weight="normal" textLength="7.2" lengthAdjust="spacingAndGlyphs" stroke="#333" stroke-width="0.18">50</text>
<line x1="265.9" y1="333" x2="269.4" y2="333" stroke="#222" stroke-width="1"/>
<text x="262.9" y="335.4" font-size="6.8" text-anchor="end" fill="#333" font-weight="normal" textLength="10.8" lengthAdjust="spacingAndGlyphs" stroke="#333" stroke-width="0.18">100</text>
<rect x="273.1" y="402.94" width="4.2" height="28.57" fill="#6b3a12"/>
<line x1="275.2" y1="388.16" x2="275.2" y2="403.24" stroke="#777" stroke-width="0.8"/>
<line x1="274" y1="388.16" x2="276.4" y2="388.16" stroke="#777" stroke-width="0.8"/>
<rect x="280.4" y="392.1" width="4.2" height="39.4" fill="#3dae40"/>
<line x1="282.5" y1="374.37" x2="282.5" y2="392.4" stroke="#777" stroke-width="0.8"/>
<line x1="281.3" y1="374.37" x2="283.7" y2="374.37" stroke="#777" stroke-width="0.8"/>
<rect x="288" y="413.77" width="4.2" height="17.73" fill="#531a68"/>
<line x1="290.1" y1="409.83" x2="290.1" y2="414.07" stroke="#777" stroke-width="0.8"/>
<line x1="288.9" y1="409.83" x2="291.3" y2="409.83" stroke="#777" stroke-width="0.8"/>
<rect x="301" y="396.04" width="4.2" height="35.46" fill="#6b3a12"/>
<line x1="303.1" y1="377.32" x2="303.1" y2="396.34" stroke="#777" stroke-width="0.8"/>
<line x1="301.9" y1="377.32" x2="304.3" y2="377.32" stroke="#777" stroke-width="0.8"/>
<rect x="308.4" y="376.34" width="4.2" height="55.16" fill="#3dae40"/>
<line x1="310.5" y1="371.42" x2="310.5" y2="376.64" stroke="#777" stroke-width="0.8"/>
<line x1="309.3" y1="371.42" x2="311.7" y2="371.42" stroke="#777" stroke-width="0.8"/>
<rect x="315.9" y="341.87" width="4.2" height="89.64" fill="#531a68"/>
<line x1="318" y1="336.94" x2="318" y2="342.17" stroke="#777" stroke-width="0.8"/>
<line x1="316.8" y1="336.94" x2="319.2" y2="336.94" stroke="#777" stroke-width="0.8"/>
<rect x="328.9" y="384.22" width="4.2" height="47.28" fill="#6b3a12"/>
<line x1="331" y1="360.58" x2="331" y2="384.52" stroke="#777" stroke-width="0.8"/>
<line x1="329.8" y1="360.58" x2="332.2" y2="360.58" stroke="#777" stroke-width="0.8"/>
<rect x="336.5" y="341.87" width="4.2" height="89.64" fill="#3dae40"/>
<line x1="338.6" y1="340.88" x2="338.6" y2="342.17" stroke="#777" stroke-width="0.8"/>
<line x1="337.4" y1="340.88" x2="339.8" y2="340.88" stroke="#777" stroke-width="0.8"/>
<rect x="344" y="355.65" width="4.2" height="75.84" fill="#531a68"/>
<line x1="346.1" y1="348.76" x2="346.1" y2="355.95" stroke="#777" stroke-width="0.8"/>
<line x1="344.9" y1="348.76" x2="347.3" y2="348.76" stroke="#777" stroke-width="0.8"/>
<text x="282.5" y="444.5" font-size="7" text-anchor="middle" fill="#333" font-weight="normal" stroke="#333" stroke-width="0.18">CD69</text>
<line x1="282.5" y1="431.5" x2="282.5" y2="434" stroke="#222" stroke-width="1"/>
<text x="310.5" y="444.5" font-size="7" text-anchor="middle" fill="#333" font-weight="normal" stroke="#333" stroke-width="0.18">GzmB</text>
<line x1="310.5" y1="431.5" x2="310.5" y2="434" stroke="#222" stroke-width="1"/>
<text x="338.6" y="444.5" font-size="7" text-anchor="middle" fill="#333" font-weight="normal" stroke="#333" stroke-width="0.18">PD-1</text>
<line x1="338.6" y1="431.5" x2="338.6" y2="434" stroke="#222" stroke-width="1"/>
<line x1="304" y1="336" x2="316.5" y2="336" stroke="#666" stroke-width="0.8"/>
<text x="310.25" y="335.4" font-size="5.8" text-anchor="middle" fill="#333" font-weight="normal" stroke="#333" stroke-width="0.1">*</text>
<text x="234.8" y="380.8" font-size="8.2" text-anchor="middle" fill="#333" font-weight="normal" transform="rotate(-90 234.8 380.8)" textLength="68.3" lengthAdjust="spacingAndGlyphs" stroke="#333" stroke-width="0.18">Frequency of positive</text>
<text x="245.8" y="379.9" font-size="8.2" text-anchor="middle" fill="#333" font-weight="normal" transform="rotate(-90 245.8 379.9)" textLength="54.2" lengthAdjust="spacingAndGlyphs" stroke="#333" stroke-width="0.18">CD8+ T cells [%]</text>
<rect x="110.8" y="454.3" width="6.7" height="3.2" fill="#6b3a12"/>
<text x="121" y="458.3" font-size="7" text-anchor="start" fill="#333" font-weight="normal" textLength="21.5" lengthAdjust="spacingAndGlyphs" stroke="#333" stroke-width="0.18">Vehicle</text>
<rect x="150.6" y="454.3" width="6.5" height="3.2" fill="#3dae40"/>
<text x="159.6" y="458.3" font-size="7" text-anchor="start" fill="#333" font-weight="normal" textLength="101.5" lengthAdjust="spacingAndGlyphs" stroke="#333" stroke-width="0.18">Forimtamig 0.0005-0.002 mg/kg</text>
<rect x="110.8" y="464.5" width="6.7" height="3.2" fill="#531a68"/>
<text x="121" y="468.5" font-size="7" text-anchor="start" fill="#333" font-weight="normal" textLength="204" lengthAdjust="spacingAndGlyphs" stroke="#333" stroke-width="0.18">Forimtamig 0.0005-0.002 mg/kg + Mezigdomide 1 mg/kg (5q7d)</text>
<text x="377.3" y="322.6" font-size="12.7" text-anchor="start" fill="#111" font-weight="bold" stroke="#111" stroke-width="0.45">H</text>
<line x1="419" y1="329" x2="419" y2="431.9" stroke="#222" stroke-width="1.5"/>
<line x1="418.5" y1="431.4" x2="492.3" y2="431.4" stroke="#222" stroke-width="1.5"/>
<line x1="415.8" y1="431.4" x2="419" y2="431.4" stroke="#222" stroke-width="1"/>
<text x="411.5" y="433.8" font-size="6.8" text-anchor="end" fill="#333" font-weight="normal" textLength="3.4" lengthAdjust="spacingAndGlyphs" stroke="#333" stroke-width="0.18">0</text>
<line x1="415.8" y1="406.62" x2="419" y2="406.62" stroke="#222" stroke-width="1"/>
<text x="411.5" y="409.02" font-size="6.8" text-anchor="end" fill="#333" font-weight="normal" textLength="6.8" lengthAdjust="spacingAndGlyphs" stroke="#333" stroke-width="0.18">20</text>
<line x1="415.8" y1="381.85" x2="419" y2="381.85" stroke="#222" stroke-width="1"/>
<text x="411.5" y="384.25" font-size="6.8" text-anchor="end" fill="#333" font-weight="normal" textLength="6.8" lengthAdjust="spacingAndGlyphs" stroke="#333" stroke-width="0.18">40</text>
<line x1="415.8" y1="357.07" x2="419" y2="357.07" stroke="#222" stroke-width="1"/>
<text x="411.5" y="359.47" font-size="6.8" text-anchor="end" fill="#333" font-weight="normal" textLength="6.8" lengthAdjust="spacingAndGlyphs" stroke="#333" stroke-width="0.18">60</text>
<line x1="415.8" y1="332.3" x2="419" y2="332.3" stroke="#222" stroke-width="1"/>
<text x="411.5" y="334.7" font-size="6.8" text-anchor="end" fill="#333" font-weight="normal" textLength="6.8" lengthAdjust="spacingAndGlyphs" stroke="#333" stroke-width="0.18">80</text>
<line x1="425.7" y1="415.17" x2="425.7" y2="425.45" stroke="#8a8a9c" stroke-width="0.9"/>
<line x1="424.1" y1="415.17" x2="427.3" y2="415.17" stroke="#8a8a9c" stroke-width="1"/>
<rect x="423.15" y="425.75" width="5.1" height="5.65" fill="#9d9cae" stroke="#878699" stroke-width="0.6"/>
<line x1="425.7" y1="431.4" x2="425.7" y2="434.4" stroke="#222" stroke-width="1"/>
<text x="428.7" y="441.8" font-size="7.4" text-anchor="end" fill="#333" font-weight="normal" transform="rotate(-45 428.7 441.8)" stroke="#333" stroke-width="0.18">Mezigdomide 0,1 nM</text>
<line x1="435.7" y1="394.11" x2="435.7" y2="404.89" stroke="#8a8a9c" stroke-width="0.9"/>
<line x1="434.1" y1="394.11" x2="437.3" y2="394.11" stroke="#8a8a9c" stroke-width="1"/>
<rect x="433.15" y="405.19" width="5.1" height="26.21" fill="#9d9cae" stroke="#878699" stroke-width="0.6"/>
<line x1="435.7" y1="431.4" x2="435.7" y2="434.4" stroke="#222" stroke-width="1"/>
<text x="438.7" y="441.8" font-size="7.4" text-anchor="end" fill="#333" font-weight="normal" transform="rotate(-45 438.7 441.8)" stroke="#333" stroke-width="0.18">Mezigdomide 1 nM</text>
<line x1="445.7" y1="384.2" x2="445.7" y2="401.67" stroke="#8a8a9c" stroke-width="0.9"/>
<line x1="444.1" y1="384.2" x2="447.3" y2="384.2" stroke="#8a8a9c" stroke-width="1"/>
<rect x="443.15" y="401.97" width="5.1" height="29.43" fill="#9d9cae" stroke="#878699" stroke-width="0.6"/>
<line x1="445.7" y1="431.4" x2="445.7" y2="434.4" stroke="#222" stroke-width="1"/>
<text x="448.7" y="441.8" font-size="7.4" text-anchor="end" fill="#333" font-weight="normal" transform="rotate(-45 448.7 441.8)" stroke="#333" stroke-width="0.18">Mezigdomide 10 nM</text>
<line x1="455.7" y1="365.37" x2="455.7" y2="382.1" stroke="#74b262" stroke-width="0.9"/>
<line x1="454.1" y1="365.37" x2="457.3" y2="365.37" stroke="#74b262" stroke-width="1"/>
<rect x="453.15" y="382.4" width="5.1" height="49" fill="#8ccb78" stroke="#78b866" stroke-width="0.6"/>
<line x1="455.7" y1="431.4" x2="455.7" y2="434.4" stroke="#222" stroke-width="1"/>
<text x="458.7" y="441.8" font-size="7.4" text-anchor="end" fill="#333" font-weight="normal" transform="rotate(-45 458.7 441.8)" stroke="#333" stroke-width="0.18">Forimtamig 0,1 nM</text>
<line x1="465.7" y1="354.6" x2="465.7" y2="369.83" stroke="#a65260" stroke-width="0.9"/>
<line x1="464.1" y1="354.6" x2="467.3" y2="354.6" stroke="#a65260" stroke-width="1"/>
<rect x="463.15" y="370.13" width="5.1" height="61.27" fill="#e57f72" stroke="#c45a55" stroke-width="0.6"/>
<line x1="465.7" y1="431.4" x2="465.7" y2="434.4" stroke="#222" stroke-width="1"/>
<text x="468.7" y="441.8" font-size="7.4" text-anchor="end" fill="#333" font-weight="normal" transform="rotate(-45 468.7 441.8)" stroke="#333" stroke-width="0.18">Forim + Mezi 0,1 nM</text>
<line x1="475.7" y1="345.31" x2="475.7" y2="361.66" stroke="#a65260" stroke-width="0.9"/>
<line x1="474.1" y1="345.31" x2="477.3" y2="345.31" stroke="#a65260" stroke-width="1"/>
<rect x="473.15" y="361.96" width="5.1" height="69.44" fill="#e57f72" stroke="#c45a55" stroke-width="0.6"/>
<line x1="475.7" y1="431.4" x2="475.7" y2="434.4" stroke="#222" stroke-width="1"/>
<text x="478.7" y="441.8" font-size="7.4" text-anchor="end" fill="#333" font-weight="normal" transform="rotate(-45 478.7 441.8)" stroke="#333" stroke-width="0.18">Forim + Mezi 1 nM</text>
<line x1="485.7" y1="353.98" x2="485.7" y2="370.95" stroke="#a65260" stroke-width="0.9"/>
<line x1="484.1" y1="353.98" x2="487.3" y2="353.98" stroke="#a65260" stroke-width="1"/>
<rect x="483.15" y="371.25" width="5.1" height="60.15" fill="#e57f72" stroke="#c45a55" stroke-width="0.6"/>
<line x1="485.7" y1="431.4" x2="485.7" y2="434.4" stroke="#222" stroke-width="1"/>
<text x="488.7" y="441.8" font-size="7.4" text-anchor="end" fill="#333" font-weight="normal" transform="rotate(-45 488.7 441.8)" stroke="#333" stroke-width="0.18">Forim + Mezi 10 nM</text>
<line x1="425.7" y1="333.6" x2="475.6" y2="333.6" stroke="#777" stroke-width="0.9"/>
<text x="450.3" y="332.6" font-size="5.8" text-anchor="middle" fill="#333" font-weight="normal" stroke="#333" stroke-width="0.1">*</text>
<text x="399.5" y="378.2" font-size="8.2" text-anchor="middle" fill="#333" font-weight="normal" transform="rotate(-90 399.5 378.2)" textLength="101.5" lengthAdjust="spacingAndGlyphs" stroke="#333" stroke-width="0.18">Percent depletion of MMPCs [%]</text>
<text x="9.3" y="510.8" font-size="12.7" text-anchor="start" fill="#111" font-weight="bold" stroke="#111" stroke-width="0.45">I</text>
<line x1="47.7" y1="521" x2="47.7" y2="632.1" stroke="#222" stroke-width="1.5"/>
<line x1="47.2" y1="631.6" x2="410.4" y2="631.6" stroke="#222" stroke-width="1.5"/>
<line x1="45.1" y1="631.6" x2="47.7" y2="631.6" stroke="#222" stroke-width="1"/>
<text x="42.4" y="634.1" font-size="7" text-anchor="end" fill="#333" font-weight="normal" textLength="4" lengthAdjust="spacingAndGlyphs" stroke="#333" stroke-width="0.18">0</text>
<line x1="45.1" y1="609.88" x2="47.7" y2="609.88" stroke="#222" stroke-width="1"/>
<text x="42.4" y="612.38" font-size="7" text-anchor="end" fill="#333" font-weight="normal" textLength="8" lengthAdjust="spacingAndGlyphs" stroke="#333" stroke-width="0.18">20</text>
<line x1="45.1" y1="588.16" x2="47.7" y2="588.16" stroke="#222" stroke-width="1"/>
<text x="42.4" y="590.66" font-size="7" text-anchor="end" fill="#333" font-weight="normal" textLength="8" lengthAdjust="spacingAndGlyphs" stroke="#333" stroke-width="0.18">40</text>
<line x1="45.1" y1="566.44" x2="47.7" y2="566.44" stroke="#222" stroke-width="1"/>
<text x="42.4" y="568.94" font-size="7" text-anchor="end" fill="#333" font-weight="normal" textLength="8" lengthAdjust="spacingAndGlyphs" stroke="#333" stroke-width="0.18">60</text>
<line x1="45.1" y1="544.72" x2="47.7" y2="544.72" stroke="#222" stroke-width="1"/>
<text x="42.4" y="547.22" font-size="7" text-anchor="end" fill="#333" font-weight="normal" textLength="8" lengthAdjust="spacingAndGlyphs" stroke="#333" stroke-width="0.18">80</text>
<line x1="45.1" y1="523" x2="47.7" y2="523" stroke="#222" stroke-width="1"/>
<text x="42.4" y="525.5" font-size="7" text-anchor="end" fill="#333" font-weight="normal" textLength="12" lengthAdjust="spacingAndGlyphs" stroke="#333" stroke-width="0.18">100</text>
<text x="23.7" y="570.7" font-size="8.2" text-anchor="middle" fill="#333" font-weight="normal" transform="rotate(-90 23.7 570.7)" textLength="95" lengthAdjust="spacingAndGlyphs" stroke="#333" stroke-width="0.18">Positive cells in CD8+ T cells [%]</text>
<rect x="51.15" y="628.34" width="3.7" height="3.26" fill="#b8002e"/>
<line x1="53" y1="625.84" x2="53" y2="630.84" stroke="rgba(50,50,50,0.6)" stroke-width="1"/>
<line x1="51.9" y1="625.84" x2="54.1" y2="625.84" stroke="rgba(50,50,50,0.6)" stroke-width="0.9"/>
<line x1="53" y1="631.6" x2="53" y2="634" stroke="#b8002e" stroke-width="1.1"/>
<text x="55" y="638.8" font-size="7" text-anchor="end" fill="#333" font-weight="normal" transform="rotate(-90 55 638.8)" stroke="#333" stroke-width="0.18">Untargeted TCB</text>
<rect x="58.18" y="628.88" width="3.7" height="2.72" fill="#b8002e"/>
<line x1="60.03" y1="627.26" x2="60.03" y2="630.51" stroke="rgba(50,50,50,0.6)" stroke-width="1"/>
<line x1="58.93" y1="627.26" x2="61.13" y2="627.26" stroke="rgba(50,50,50,0.6)" stroke-width="0.9"/>
<line x1="60.03" y1="631.6" x2="60.03" y2="634" stroke="#b8002e" stroke-width="1.1"/>
<text x="62.03" y="638.8" font-size="7" text-anchor="end" fill="#333" font-weight="normal" transform="rotate(-90 62.03 638.8)" stroke="#333" stroke-width="0.18">Mezigdomide 0,1 nM</text>
<rect x="65.21" y="628.88" width="3.7" height="2.72" fill="#b8002e"/>
<line x1="67.06" y1="627.26" x2="67.06" y2="630.51" stroke="rgba(50,50,50,0.6)" stroke-width="1"/>
<line x1="65.96" y1="627.26" x2="68.16" y2="627.26" stroke="rgba(50,50,50,0.6)" stroke-width="0.9"/>
<line x1="67.06" y1="631.6" x2="67.06" y2="634" stroke="#b8002e" stroke-width="1.1"/>
<text x="69.06" y="638.8" font-size="7" text-anchor="end" fill="#333" font-weight="normal" transform="rotate(-90 69.06 638.8)" stroke="#333" stroke-width="0.18">Mezigdomide 1 nM</text>
<rect x="72.24" y="629.43" width="3.7" height="2.17" fill="#b8002e"/>
<line x1="74.09" y1="627.8" x2="74.09" y2="631.06" stroke="rgba(50,50,50,0.6)" stroke-width="1"/>
<line x1="72.99" y1="627.8" x2="75.19" y2="627.8" stroke="rgba(50,50,50,0.6)" stroke-width="0.9"/>
<line x1="74.09" y1="631.6" x2="74.09" y2="634" stroke="#b8002e" stroke-width="1.1"/>
<text x="76.09" y="638.8" font-size="7" text-anchor="end" fill="#333" font-weight="normal" transform="rotate(-90 76.09 638.8)" stroke="#333" stroke-width="0.18">Mezigdomide 10 nM</text>
<rect x="79.27" y="578.06" width="3.7" height="53.54" fill="#b8002e"/>
<line x1="81.12" y1="563.73" x2="81.12" y2="592.4" stroke="rgba(50,50,50,0.6)" stroke-width="1"/>
<line x1="80.02" y1="563.73" x2="82.22" y2="563.73" stroke="rgba(50,50,50,0.6)" stroke-width="0.9"/>
<line x1="81.12" y1="631.6" x2="81.12" y2="634" stroke="#b8002e" stroke-width="1.1"/>
<text x="83.12" y="638.8" font-size="7" text-anchor="end" fill="#333" font-weight="normal" transform="rotate(-90 83.12 638.8)" stroke="#333" stroke-width="0.18">Forimtamig 0,1 nM</text>
<rect x="86.3" y="571.98" width="3.7" height="59.62" fill="#b8002e"/>
<line x1="88.15" y1="558.84" x2="88.15" y2="585.12" stroke="rgba(50,50,50,0.6)" stroke-width="1"/>
<line x1="87.05" y1="558.84" x2="89.25" y2="558.84" stroke="rgba(50,50,50,0.6)" stroke-width="0.9"/>
<line x1="88.15" y1="631.6" x2="88.15" y2="634" stroke="#b8002e" stroke-width="1.1"/>
<text x="90.15" y="638.8" font-size="7" text-anchor="end" fill="#333" font-weight="normal" transform="rotate(-90 90.15 638.8)" stroke="#333" stroke-width="0.18">Forim 0,1 nM+ Mezi 0,1 nM</text>
<rect x="93.33" y="556.88" width="3.7" height="74.72" fill="#b8002e"/>
<line x1="95.18" y1="544.83" x2="95.18" y2="568.94" stroke="rgba(50,50,50,0.6)" stroke-width="1"/>
<line x1="94.08" y1="544.83" x2="96.28" y2="544.83" stroke="rgba(50,50,50,0.6)" stroke-width="0.9"/>
<line x1="95.18" y1="631.6" x2="95.18" y2="634" stroke="#b8002e" stroke-width="1.1"/>
<text x="97.18" y="638.8" font-size="7" text-anchor="end" fill="#333" font-weight="normal" transform="rotate(-90 97.18 638.8)" stroke="#333" stroke-width="0.18">Forim 0,1 nM+ Mezi 1 nM</text>
<rect x="100.36" y="566.98" width="3.7" height="64.62" fill="#b8002e"/>
<line x1="102.21" y1="552.87" x2="102.21" y2="581.1" stroke="rgba(50,50,50,0.6)" stroke-width="1"/>
<line x1="101.11" y1="552.87" x2="103.31" y2="552.87" stroke="rgba(50,50,50,0.6)" stroke-width="0.9"/>
<line x1="102.21" y1="631.6" x2="102.21" y2="634" stroke="#b8002e" stroke-width="1.1"/>
<text x="104.21" y="638.8" font-size="7" text-anchor="end" fill="#333" font-weight="normal" transform="rotate(-90 104.21 638.8)" stroke="#333" stroke-width="0.18">Forim 0,1 nM+ Mezi 10 nM</text>
<rect x="111.55" y="608.47" width="3.7" height="23.13" fill="#3fae3f"/>
<line x1="113.4" y1="602.28" x2="113.4" y2="614.66" stroke="rgba(50,50,50,0.6)" stroke-width="1"/>
<line x1="112.3" y1="602.28" x2="114.5" y2="602.28" stroke="rgba(50,50,50,0.6)" stroke-width="0.9"/>
<line x1="113.4" y1="631.6" x2="113.4" y2="634" stroke="#3fae3f" stroke-width="1.1"/>
<text x="115.4" y="638.8" font-size="7" text-anchor="end" fill="#333" font-weight="normal" transform="rotate(-90 115.4 638.8)" stroke="#333" stroke-width="0.18">Untargeted TCB</text>
<rect x="118.58" y="610.53" width="3.7" height="21.07" fill="#3fae3f"/>
<line x1="120.43" y1="604.45" x2="120.43" y2="616.61" stroke="rgba(50,50,50,0.6)" stroke-width="1"/>
<line x1="119.33" y1="604.45" x2="121.53" y2="604.45" stroke="rgba(50,50,50,0.6)" stroke-width="0.9"/>
<line x1="120.43" y1="631.6" x2="120.43" y2="634" stroke="#3fae3f" stroke-width="1.1"/>
<text x="122.43" y="638.8" font-size="7" text-anchor="end" fill="#333" font-weight="normal" transform="rotate(-90 122.43 638.8)" stroke="#333" stroke-width="0.18">Mezigdomide 0,1 nM</text>
<rect x="125.61" y="607.16" width="3.7" height="24.44" fill="#3fae3f"/>
<line x1="127.46" y1="600.97" x2="127.46" y2="613.36" stroke="rgba(50,50,50,0.6)" stroke-width="1"/>
<line x1="126.36" y1="600.97" x2="128.56" y2="600.97" stroke="rgba(50,50,50,0.6)" stroke-width="0.9"/>
<line x1="127.46" y1="631.6" x2="127.46" y2="634" stroke="#3fae3f" stroke-width="1.1"/>
<text x="129.46" y="638.8" font-size="7" text-anchor="end" fill="#333" font-weight="normal" transform="rotate(-90 129.46 638.8)" stroke="#333" stroke-width="0.18">Mezigdomide 1 nM</text>
<rect x="132.64" y="603.47" width="3.7" height="28.13" fill="#3fae3f"/>
<line x1="134.49" y1="597.17" x2="134.49" y2="609.77" stroke="rgba(50,50,50,0.6)" stroke-width="1"/>
<line x1="133.39" y1="597.17" x2="135.59" y2="597.17" stroke="rgba(50,50,50,0.6)" stroke-width="0.9"/>
<line x1="134.49" y1="631.6" x2="134.49" y2="634" stroke="#3fae3f" stroke-width="1.1"/>
<text x="136.49" y="638.8" font-size="7" text-anchor="end" fill="#333" font-weight="normal" transform="rotate(-90 136.49 638.8)" stroke="#333" stroke-width="0.18">Mezigdomide 10 nM</text>
<rect x="139.67" y="578.06" width="3.7" height="53.54" fill="#3fae3f"/>
<line x1="141.52" y1="569.48" x2="141.52" y2="586.64" stroke="rgba(50,50,50,0.6)" stroke-width="1"/>
<line x1="140.42" y1="569.48" x2="142.62" y2="569.48" stroke="rgba(50,50,50,0.6)" stroke-width="0.9"/>
<line x1="141.52" y1="631.6" x2="141.52" y2="634" stroke="#3fae3f" stroke-width="1.1"/>
<text x="143.52" y="638.8" font-size="7" text-anchor="end" fill="#333" font-weight="normal" transform="rotate(-90 143.52 638.8)" stroke="#333" stroke-width="0.18">Forimtamig 0,1 nM</text>
<rect x="146.7" y="575.13" width="3.7" height="56.47" fill="#3fae3f"/>
<line x1="148.55" y1="565.46" x2="148.55" y2="584.79" stroke="rgba(50,50,50,0.6)" stroke-width="1"/>
<line x1="147.45" y1="565.46" x2="149.65" y2="565.46" stroke="rgba(50,50,50,0.6)" stroke-width="0.9"/>
<line x1="148.55" y1="631.6" x2="148.55" y2="634" stroke="#3fae3f" stroke-width="1.1"/>
<text x="150.55" y="638.8" font-size="7" text-anchor="end" fill="#333" font-weight="normal" transform="rotate(-90 150.55 638.8)" stroke="#333" stroke-width="0.18">Forim 0,1 nM+ Mezi 0,1 nM</text>
<rect x="153.73" y="553.19" width="3.7" height="78.41" fill="#3fae3f"/>
<line x1="155.58" y1="545.37" x2="155.58" y2="561.01" stroke="rgba(50,50,50,0.6)" stroke-width="1"/>
<line x1="154.48" y1="545.37" x2="156.68" y2="545.37" stroke="rgba(50,50,50,0.6)" stroke-width="0.9"/>
<line x1="155.58" y1="631.6" x2="155.58" y2="634" stroke="#3fae3f" stroke-width="1.1"/>
<text x="157.58" y="638.8" font-size="7" text-anchor="end" fill="#333" font-weight="normal" transform="rotate(-90 157.58 638.8)" stroke="#333" stroke-width="0.18">Forim 0,1 nM+ Mezi 1 nM</text>
<rect x="160.76" y="548.09" width="3.7" height="83.51" fill="#3fae3f"/>
<line x1="162.61" y1="538.1" x2="162.61" y2="558.08" stroke="rgba(50,50,50,0.6)" stroke-width="1"/>
<line x1="161.51" y1="538.1" x2="163.71" y2="538.1" stroke="rgba(50,50,50,0.6)" stroke-width="0.9"/>
<line x1="162.61" y1="631.6" x2="162.61" y2="634" stroke="#3fae3f" stroke-width="1.1"/>
<text x="164.61" y="638.8" font-size="7" text-anchor="end" fill="#333" font-weight="normal" transform="rotate(-90 164.61 638.8)" stroke="#333" stroke-width="0.18">Forim 0,1 nM+ Mezi 10 nM</text>
<rect x="172.45" y="598.37" width="3.7" height="33.23" fill="#f29312"/>
<line x1="174.3" y1="589.57" x2="174.3" y2="607.16" stroke="rgba(50,50,50,0.6)" stroke-width="1"/>
<line x1="173.2" y1="589.57" x2="175.4" y2="589.57" stroke="rgba(50,50,50,0.6)" stroke-width="0.9"/>
<line x1="174.3" y1="631.6" x2="174.3" y2="634" stroke="#f29312" stroke-width="1.1"/>
<text x="176.3" y="638.8" font-size="7" text-anchor="end" fill="#333" font-weight="normal" transform="rotate(-90 176.3 638.8)" stroke="#333" stroke-width="0.18">Untargeted TCB</text>
<rect x="179.48" y="598.91" width="3.7" height="32.69" fill="#f29312"/>
<line x1="181.33" y1="588.81" x2="181.33" y2="609.01" stroke="rgba(50,50,50,0.6)" stroke-width="1"/>
<line x1="180.23" y1="588.81" x2="182.43" y2="588.81" stroke="rgba(50,50,50,0.6)" stroke-width="0.9"/>
<line x1="181.33" y1="631.6" x2="181.33" y2="634" stroke="#f29312" stroke-width="1.1"/>
<text x="183.33" y="638.8" font-size="7" text-anchor="end" fill="#333" font-weight="normal" transform="rotate(-90 183.33 638.8)" stroke="#333" stroke-width="0.18">Mezigdomide 0,1 nM</text>
<rect x="186.51" y="600.21" width="3.7" height="31.39" fill="#f29312"/>
<line x1="188.36" y1="590.66" x2="188.36" y2="609.77" stroke="rgba(50,50,50,0.6)" stroke-width="1"/>
<line x1="187.26" y1="590.66" x2="189.46" y2="590.66" stroke="rgba(50,50,50,0.6)" stroke-width="0.9"/>
<line x1="188.36" y1="631.6" x2="188.36" y2="634" stroke="#f29312" stroke-width="1.1"/>
<text x="190.36" y="638.8" font-size="7" text-anchor="end" fill="#333" font-weight="normal" transform="rotate(-90 190.36 638.8)" stroke="#333" stroke-width="0.18">Mezigdomide 1 nM</text>
<rect x="193.54" y="603.15" width="3.7" height="28.45" fill="#f29312"/>
<line x1="195.39" y1="594.68" x2="195.39" y2="611.62" stroke="rgba(50,50,50,0.6)" stroke-width="1"/>
<line x1="194.29" y1="594.68" x2="196.49" y2="594.68" stroke="rgba(50,50,50,0.6)" stroke-width="0.9"/>
<line x1="195.39" y1="631.6" x2="195.39" y2="634" stroke="#f29312" stroke-width="1.1"/>
<text x="197.39" y="638.8" font-size="7" text-anchor="end" fill="#333" font-weight="normal" transform="rotate(-90 197.39 638.8)" stroke="#333" stroke-width="0.18">Mezigdomide 10 nM</text>
<rect x="200.57" y="572.52" width="3.7" height="59.08" fill="#f29312"/>
<line x1="202.42" y1="561.99" x2="202.42" y2="583.06" stroke="rgba(50,50,50,0.6)" stroke-width="1"/>
<line x1="201.32" y1="561.99" x2="203.52" y2="561.99" stroke="rgba(50,50,50,0.6)" stroke-width="0.9"/>
<line x1="202.42" y1="631.6" x2="202.42" y2="634" stroke="#f29312" stroke-width="1.1"/>
<text x="204.42" y="638.8" font-size="7" text-anchor="end" fill="#333" font-weight="normal" transform="rotate(-90 204.42 638.8)" stroke="#333" stroke-width="0.18">Forimtamig 0,1 nM</text>
<rect x="207.6" y="567.96" width="3.7" height="63.64" fill="#f29312"/>
<line x1="209.45" y1="557.43" x2="209.45" y2="578.49" stroke="rgba(50,50,50,0.6)" stroke-width="1"/>
<line x1="208.35" y1="557.43" x2="210.55" y2="557.43" stroke="rgba(50,50,50,0.6)" stroke-width="0.9"/>
<line x1="209.45" y1="631.6" x2="209.45" y2="634" stroke="#f29312" stroke-width="1.1"/>
<text x="211.45" y="638.8" font-size="7" text-anchor="end" fill="#333" font-weight="normal" transform="rotate(-90 211.45 638.8)" stroke="#333" stroke-width="0.18">Forim 0,1 nM+ Mezi 0,1 nM</text>
<rect x="214.63" y="563.18" width="3.7" height="68.42" fill="#f29312"/>
<line x1="216.48" y1="556.23" x2="216.48" y2="570.13" stroke="rgba(50,50,50,0.6)" stroke-width="1"/>
<line x1="215.38" y1="556.23" x2="217.58" y2="556.23" stroke="rgba(50,50,50,0.6)" stroke-width="0.9"/>
<line x1="216.48" y1="631.6" x2="216.48" y2="634" stroke="#f29312" stroke-width="1.1"/>
<text x="218.48" y="638.8" font-size="7" text-anchor="end" fill="#333" font-weight="normal" transform="rotate(-90 218.48 638.8)" stroke="#333" stroke-width="0.18">Forim 0,1 nM+ Mezi 1 nM</text>
<rect x="221.66" y="580.01" width="3.7" height="51.59" fill="#f29312"/>
<line x1="223.51" y1="571.22" x2="223.51" y2="588.81" stroke="rgba(50,50,50,0.6)" stroke-width="1"/>
<line x1="222.41" y1="571.22" x2="224.61" y2="571.22" stroke="rgba(50,50,50,0.6)" stroke-width="0.9"/>
<line x1="223.51" y1="631.6" x2="223.51" y2="634" stroke="#f29312" stroke-width="1.1"/>
<text x="225.51" y="638.8" font-size="7" text-anchor="end" fill="#333" font-weight="normal" transform="rotate(-90 225.51 638.8)" stroke="#333" stroke-width="0.18">Forim 0,1 nM+ Mezi 10 nM</text>
<rect x="232.65" y="628.34" width="3.7" height="3.26" fill="#1d6b50"/>
<line x1="234.5" y1="626.6" x2="234.5" y2="630.08" stroke="rgba(50,50,50,0.6)" stroke-width="1"/>
<line x1="233.4" y1="626.6" x2="235.6" y2="626.6" stroke="rgba(50,50,50,0.6)" stroke-width="0.9"/>
<line x1="234.5" y1="631.6" x2="234.5" y2="634" stroke="#1d6b50" stroke-width="1.1"/>
<text x="236.5" y="638.8" font-size="7" text-anchor="end" fill="#333" font-weight="normal" transform="rotate(-90 236.5 638.8)" stroke="#333" stroke-width="0.18">Untargeted TCB</text>
<rect x="239.68" y="627.8" width="3.7" height="3.8" fill="#1d6b50"/>
<line x1="241.53" y1="625.84" x2="241.53" y2="629.75" stroke="rgba(50,50,50,0.6)" stroke-width="1"/>
<line x1="240.43" y1="625.84" x2="242.63" y2="625.84" stroke="rgba(50,50,50,0.6)" stroke-width="0.9"/>
<line x1="241.53" y1="631.6" x2="241.53" y2="634" stroke="#1d6b50" stroke-width="1.1"/>
<text x="243.53" y="638.8" font-size="7" text-anchor="end" fill="#333" font-weight="normal" transform="rotate(-90 243.53 638.8)" stroke="#333" stroke-width="0.18">Mezigdomide 0,1 nM</text>
<rect x="246.71" y="623.56" width="3.7" height="8.04" fill="#1d6b50"/>
<line x1="248.56" y1="618.24" x2="248.56" y2="628.88" stroke="rgba(50,50,50,0.6)" stroke-width="1"/>
<line x1="247.46" y1="618.24" x2="249.66" y2="618.24" stroke="rgba(50,50,50,0.6)" stroke-width="0.9"/>
<line x1="248.56" y1="631.6" x2="248.56" y2="634" stroke="#1d6b50" stroke-width="1.1"/>
<text x="250.56" y="638.8" font-size="7" text-anchor="end" fill="#333" font-weight="normal" transform="rotate(-90 250.56 638.8)" stroke="#333" stroke-width="0.18">Mezigdomide 1 nM</text>
<rect x="253.74" y="618.57" width="3.7" height="13.03" fill="#1d6b50"/>
<line x1="255.59" y1="612.7" x2="255.59" y2="624.43" stroke="rgba(50,50,50,0.6)" stroke-width="1"/>
<line x1="254.49" y1="612.7" x2="256.69" y2="612.7" stroke="rgba(50,50,50,0.6)" stroke-width="0.9"/>
<line x1="255.59" y1="631.6" x2="255.59" y2="634" stroke="#1d6b50" stroke-width="1.1"/>
<text x="257.59" y="638.8" font-size="7" text-anchor="end" fill="#333" font-weight="normal" transform="rotate(-90 257.59 638.8)" stroke="#333" stroke-width="0.18">Mezigdomide 10 nM</text>
<rect x="260.77" y="577.52" width="3.7" height="54.08" fill="#1d6b50"/>
<line x1="262.62" y1="570.78" x2="262.62" y2="584.25" stroke="rgba(50,50,50,0.6)" stroke-width="1"/>
<line x1="261.52" y1="570.78" x2="263.72" y2="570.78" stroke="rgba(50,50,50,0.6)" stroke-width="0.9"/>
<line x1="262.62" y1="631.6" x2="262.62" y2="634" stroke="#1d6b50" stroke-width="1.1"/>
<text x="264.62" y="638.8" font-size="7" text-anchor="end" fill="#333" font-weight="normal" transform="rotate(-90 264.62 638.8)" stroke="#333" stroke-width="0.18">Forimtamig 0,1 nM</text>
<rect x="267.8" y="569.48" width="3.7" height="62.12" fill="#1d6b50"/>
<line x1="269.65" y1="563.73" x2="269.65" y2="575.24" stroke="rgba(50,50,50,0.6)" stroke-width="1"/>
<line x1="268.55" y1="563.73" x2="270.75" y2="563.73" stroke="rgba(50,50,50,0.6)" stroke-width="0.9"/>
<line x1="269.65" y1="631.6" x2="269.65" y2="634" stroke="#1d6b50" stroke-width="1.1"/>
<text x="271.65" y="638.8" font-size="7" text-anchor="end" fill="#333" font-weight="normal" transform="rotate(-90 271.65 638.8)" stroke="#333" stroke-width="0.18">Forim 0,1 nM+ Mezi 0,1 nM</text>
<rect x="274.83" y="547.43" width="3.7" height="84.17" fill="#1d6b50"/>
<line x1="276.68" y1="541.57" x2="276.68" y2="553.3" stroke="rgba(50,50,50,0.6)" stroke-width="1"/>
<line x1="275.58" y1="541.57" x2="277.78" y2="541.57" stroke="rgba(50,50,50,0.6)" stroke-width="0.9"/>
<line x1="276.68" y1="631.6" x2="276.68" y2="634" stroke="#1d6b50" stroke-width="1.1"/>
<text x="278.68" y="638.8" font-size="7" text-anchor="end" fill="#333" font-weight="normal" transform="rotate(-90 278.68 638.8)" stroke="#333" stroke-width="0.18">Forim 0,1 nM+ Mezi 1 nM</text>
<rect x="281.86" y="551.24" width="3.7" height="80.36" fill="#1d6b50"/>
<line x1="283.71" y1="545.59" x2="283.71" y2="556.88" stroke="rgba(50,50,50,0.6)" stroke-width="1"/>
<line x1="282.61" y1="545.59" x2="284.81" y2="545.59" stroke="rgba(50,50,50,0.6)" stroke-width="0.9"/>
<line x1="283.71" y1="631.6" x2="283.71" y2="634" stroke="#1d6b50" stroke-width="1.1"/>
<text x="285.71" y="638.8" font-size="7" text-anchor="end" fill="#333" font-weight="normal" transform="rotate(-90 285.71 638.8)" stroke="#333" stroke-width="0.18">Forim 0,1 nM+ Mezi 10 nM</text>
<rect x="293.65" y="570.02" width="3.7" height="61.58" fill="#c9c9c9"/>
<line x1="295.5" y1="557.43" x2="295.5" y2="582.62" stroke="rgba(110,110,110,0.55)" stroke-width="1"/>
<line x1="294.4" y1="557.43" x2="296.6" y2="557.43" stroke="rgba(110,110,110,0.55)" stroke-width="0.9"/>
<line x1="295.5" y1="631.6" x2="295.5" y2="634" stroke="#c9c9c9" stroke-width="1.1"/>
<text x="297.5" y="638.8" font-size="7" text-anchor="end" fill="#333" font-weight="normal" transform="rotate(-90 297.5 638.8)" stroke="#333" stroke-width="0.18">Untargeted TCB</text>
<rect x="300.68" y="573.06" width="3.7" height="58.54" fill="#c9c9c9"/>
<line x1="302.53" y1="559.92" x2="302.53" y2="586.21" stroke="rgba(110,110,110,0.55)" stroke-width="1"/>
<line x1="301.43" y1="559.92" x2="303.63" y2="559.92" stroke="rgba(110,110,110,0.55)" stroke-width="0.9"/>
<line x1="302.53" y1="631.6" x2="302.53" y2="634" stroke="#c9c9c9" stroke-width="1.1"/>
<text x="304.53" y="638.8" font-size="7" text-anchor="end" fill="#333" font-weight="normal" transform="rotate(-90 304.53 638.8)" stroke="#333" stroke-width="0.18">Mezigdomide 0,1 nM</text>
<rect x="307.71" y="584.58" width="3.7" height="47.02" fill="#c9c9c9"/>
<line x1="309.56" y1="575.56" x2="309.56" y2="593.59" stroke="rgba(110,110,110,0.55)" stroke-width="1"/>
<line x1="308.46" y1="575.56" x2="310.66" y2="575.56" stroke="rgba(110,110,110,0.55)" stroke-width="0.9"/>
<line x1="309.56" y1="631.6" x2="309.56" y2="634" stroke="#c9c9c9" stroke-width="1.1"/>
<text x="311.56" y="638.8" font-size="7" text-anchor="end" fill="#333" font-weight="normal" transform="rotate(-90 311.56 638.8)" stroke="#333" stroke-width="0.18">Mezigdomide 1 nM</text>
<rect x="314.74" y="606.51" width="3.7" height="25.09" fill="#c9c9c9"/>
<line x1="316.59" y1="596.41" x2="316.59" y2="616.61" stroke="rgba(110,110,110,0.55)" stroke-width="1"/>
<line x1="315.49" y1="596.41" x2="317.69" y2="596.41" stroke="rgba(110,110,110,0.55)" stroke-width="0.9"/>
<line x1="316.59" y1="631.6" x2="316.59" y2="634" stroke="#c9c9c9" stroke-width="1.1"/>
<text x="318.59" y="638.8" font-size="7" text-anchor="end" fill="#333" font-weight="normal" transform="rotate(-90 318.59 638.8)" stroke="#333" stroke-width="0.18">Mezigdomide 10 nM</text>
<rect x="321.77" y="548.63" width="3.7" height="82.97" fill="#c9c9c9"/>
<line x1="323.62" y1="542.33" x2="323.62" y2="554.93" stroke="rgba(110,110,110,0.55)" stroke-width="1"/>
<line x1="322.52" y1="542.33" x2="324.72" y2="542.33" stroke="rgba(110,110,110,0.55)" stroke-width="0.9"/>
<line x1="323.62" y1="631.6" x2="323.62" y2="634" stroke="#c9c9c9" stroke-width="1.1"/>
<text x="325.62" y="638.8" font-size="7" text-anchor="end" fill="#333" font-weight="normal" transform="rotate(-90 325.62 638.8)" stroke="#333" stroke-width="0.18">Forimtamig 0,1 nM</text>
<rect x="328.8" y="541.14" width="3.7" height="90.46" fill="#c9c9c9"/>
<line x1="330.65" y1="537.34" x2="330.65" y2="544.94" stroke="rgba(110,110,110,0.55)" stroke-width="1"/>
<line x1="329.55" y1="537.34" x2="331.75" y2="537.34" stroke="rgba(110,110,110,0.55)" stroke-width="0.9"/>
<line x1="330.65" y1="631.6" x2="330.65" y2="634" stroke="#c9c9c9" stroke-width="1.1"/>
<text x="332.65" y="638.8" font-size="7" text-anchor="end" fill="#333" font-weight="normal" transform="rotate(-90 332.65 638.8)" stroke="#333" stroke-width="0.18">Forim 0,1 nM+ Mezi 0,1 nM</text>
<rect x="335.83" y="539.83" width="3.7" height="91.77" fill="#c9c9c9"/>
<line x1="337.68" y1="534.08" x2="337.68" y2="545.59" stroke="rgba(110,110,110,0.55)" stroke-width="1"/>
<line x1="336.58" y1="534.08" x2="338.78" y2="534.08" stroke="rgba(110,110,110,0.55)" stroke-width="0.9"/>
<line x1="337.68" y1="631.6" x2="337.68" y2="634" stroke="#c9c9c9" stroke-width="1.1"/>
<text x="339.68" y="638.8" font-size="7" text-anchor="end" fill="#333" font-weight="normal" transform="rotate(-90 339.68 638.8)" stroke="#333" stroke-width="0.18">Forim 0,1 nM+ Mezi 1 nM</text>
<rect x="342.86" y="553.63" width="3.7" height="77.97" fill="#c9c9c9"/>
<line x1="344.71" y1="547.43" x2="344.71" y2="559.82" stroke="rgba(110,110,110,0.55)" stroke-width="1"/>
<line x1="343.61" y1="547.43" x2="345.81" y2="547.43" stroke="rgba(110,110,110,0.55)" stroke-width="0.9"/>
<line x1="344.71" y1="631.6" x2="344.71" y2="634" stroke="#c9c9c9" stroke-width="1.1"/>
<text x="346.71" y="638.8" font-size="7" text-anchor="end" fill="#333" font-weight="normal" transform="rotate(-90 346.71 638.8)" stroke="#333" stroke-width="0.18">Forim 0,1 nM+ Mezi 10 nM</text>
<rect x="354.45" y="630.51" width="3.7" height="1.09" fill="#d80a78"/>
<line x1="356.3" y1="629.97" x2="356.3" y2="631.06" stroke="rgba(50,50,50,0.6)" stroke-width="1"/>
<line x1="355.2" y1="629.97" x2="357.4" y2="629.97" stroke="rgba(50,50,50,0.6)" stroke-width="0.9"/>
<line x1="356.3" y1="631.6" x2="356.3" y2="634" stroke="#d80a78" stroke-width="1.1"/>
<text x="358.3" y="638.8" font-size="7" text-anchor="end" fill="#333" font-weight="normal" transform="rotate(-90 358.3 638.8)" stroke="#333" stroke-width="0.18">Untargeted TCB</text>
<rect x="361.48" y="630.51" width="3.7" height="1.09" fill="#d80a78"/>
<line x1="363.33" y1="629.97" x2="363.33" y2="631.06" stroke="rgba(50,50,50,0.6)" stroke-width="1"/>
<line x1="362.23" y1="629.97" x2="364.43" y2="629.97" stroke="rgba(50,50,50,0.6)" stroke-width="0.9"/>
<line x1="363.33" y1="631.6" x2="363.33" y2="634" stroke="#d80a78" stroke-width="1.1"/>
<text x="365.33" y="638.8" font-size="7" text-anchor="end" fill="#333" font-weight="normal" transform="rotate(-90 365.33 638.8)" stroke="#333" stroke-width="0.18">Mezigdomide 0,1 nM</text>
<rect x="368.51" y="630.51" width="3.7" height="1.09" fill="#d80a78"/>
<line x1="370.36" y1="629.97" x2="370.36" y2="631.06" stroke="rgba(50,50,50,0.6)" stroke-width="1"/>
<line x1="369.26" y1="629.97" x2="371.46" y2="629.97" stroke="rgba(50,50,50,0.6)" stroke-width="0.9"/>
<line x1="370.36" y1="631.6" x2="370.36" y2="634" stroke="#d80a78" stroke-width="1.1"/>
<text x="372.36" y="638.8" font-size="7" text-anchor="end" fill="#333" font-weight="normal" transform="rotate(-90 372.36 638.8)" stroke="#333" stroke-width="0.18">Mezigdomide 1 nM</text>
<rect x="375.54" y="631.06" width="3.7" height="0.54" fill="#d80a78"/>
<line x1="377.39" y1="630.51" x2="377.39" y2="631.6" stroke="rgba(50,50,50,0.6)" stroke-width="1"/>
<line x1="376.29" y1="630.51" x2="378.49" y2="630.51" stroke="rgba(50,50,50,0.6)" stroke-width="0.9"/>
<line x1="377.39" y1="631.6" x2="377.39" y2="634" stroke="#d80a78" stroke-width="1.1"/>
<text x="379.39" y="638.8" font-size="7" text-anchor="end" fill="#333" font-weight="normal" transform="rotate(-90 379.39 638.8)" stroke="#333" stroke-width="0.18">Mezigdomide 10 nM</text>
<rect x="382.57" y="615.74" width="3.7" height="15.86" fill="#d80a78"/>
<line x1="384.42" y1="609.45" x2="384.42" y2="622.04" stroke="rgba(50,50,50,0.6)" stroke-width="1"/>
<line x1="383.32" y1="609.45" x2="385.52" y2="609.45" stroke="rgba(50,50,50,0.6)" stroke-width="0.9"/>
<line x1="384.42" y1="631.6" x2="384.42" y2="634" stroke="#d80a78" stroke-width="1.1"/>
<text x="386.42" y="638.8" font-size="7" text-anchor="end" fill="#333" font-weight="normal" transform="rotate(-90 386.42 638.8)" stroke="#333" stroke-width="0.18">Forimtamig 0,1 nM</text>
<rect x="389.6" y="611.51" width="3.7" height="20.09" fill="#d80a78"/>
<line x1="391.45" y1="605.97" x2="391.45" y2="617.05" stroke="rgba(50,50,50,0.6)" stroke-width="1"/>
<line x1="390.35" y1="605.97" x2="392.55" y2="605.97" stroke="rgba(50,50,50,0.6)" stroke-width="0.9"/>
<line x1="391.45" y1="631.6" x2="391.45" y2="634" stroke="#d80a78" stroke-width="1.1"/>
<text x="393.45" y="638.8" font-size="7" text-anchor="end" fill="#333" font-weight="normal" transform="rotate(-90 393.45 638.8)" stroke="#333" stroke-width="0.18">Forim 0,1 nM+ Mezi 0,1 nM</text>
<rect x="396.63" y="598.15" width="3.7" height="33.45" fill="#d80a78"/>
<line x1="398.48" y1="589.57" x2="398.48" y2="606.73" stroke="rgba(50,50,50,0.6)" stroke-width="1"/>
<line x1="397.38" y1="589.57" x2="399.58" y2="589.57" stroke="rgba(50,50,50,0.6)" stroke-width="0.9"/>
<line x1="398.48" y1="631.6" x2="398.48" y2="634" stroke="#d80a78" stroke-width="1.1"/>
<text x="400.48" y="638.8" font-size="7" text-anchor="end" fill="#333" font-weight="normal" transform="rotate(-90 400.48 638.8)" stroke="#333" stroke-width="0.18">Forim 0,1 nM+ Mezi 1 nM</text>
<rect x="403.66" y="582.08" width="3.7" height="49.52" fill="#d80a78"/>
<line x1="405.51" y1="570.02" x2="405.51" y2="594.13" stroke="rgba(50,50,50,0.6)" stroke-width="1"/>
<line x1="404.41" y1="570.02" x2="406.61" y2="570.02" stroke="rgba(50,50,50,0.6)" stroke-width="0.9"/>
<line x1="405.51" y1="631.6" x2="405.51" y2="634" stroke="#d80a78" stroke-width="1.1"/>
<text x="407.51" y="638.8" font-size="7" text-anchor="end" fill="#333" font-weight="normal" transform="rotate(-90 407.51 638.8)" stroke="#333" stroke-width="0.18">Forim 0,1 nM+ Mezi 10 nM</text>
<line x1="52.75" y1="521.5" x2="81.25" y2="521.5" stroke="#555" stroke-width="0.7"/>
<text x="67" y="522.25" font-size="5.8" text-anchor="middle" fill="#333" font-weight="normal" stroke="#333" stroke-width="0.1">****</text>
<line x1="59.75" y1="526" x2="81.25" y2="526" stroke="#555" stroke-width="0.7"/>
<text x="70.5" y="526.75" font-size="5.8" text-anchor="middle" fill="#333" font-weight="normal" stroke="#333" stroke-width="0.1">****</text>
<line x1="66.9" y1="531.2" x2="80.6" y2="531.2" stroke="#555" stroke-width="0.7"/>
<text x="73.75" y="531.95" font-size="5.8" text-anchor="middle" fill="#333" font-weight="normal" stroke="#333" stroke-width="0.1">****</text>
<line x1="73.75" y1="535.6" x2="81.25" y2="535.6" stroke="#555" stroke-width="0.7"/>
<text x="77.5" y="536.35" font-size="5.8" text-anchor="middle" fill="#333" font-weight="normal" stroke="#333" stroke-width="0.1">****</text>
<line x1="113.4" y1="521.5" x2="141.5" y2="521.5" stroke="#555" stroke-width="0.7"/>
<text x="127.45" y="522.25" font-size="5.8" text-anchor="middle" fill="#333" font-weight="normal" stroke="#333" stroke-width="0.1">**</text>
<line x1="120.4" y1="526" x2="141.5" y2="526" stroke="#555" stroke-width="0.7"/>
<text x="130.95" y="526.75" font-size="5.8" text-anchor="middle" fill="#333" font-weight="normal" stroke="#333" stroke-width="0.1">**</text>
<line x1="127.4" y1="531.2" x2="162.5" y2="531.2" stroke="#555" stroke-width="0.7"/>
<line x1="134.5" y1="535.6" x2="155.5" y2="535.6" stroke="#555" stroke-width="0.7"/>
<line x1="174.3" y1="521.5" x2="201.8" y2="521.5" stroke="#555" stroke-width="0.7"/>
<text x="188.05" y="522.25" font-size="5.8" text-anchor="middle" fill="#333" font-weight="normal" stroke="#333" stroke-width="0.1">*</text>
<line x1="181.3" y1="526" x2="201.8" y2="526" stroke="#555" stroke-width="0.7"/>
<text x="191.55" y="526.75" font-size="5.8" text-anchor="middle" fill="#333" font-weight="normal" stroke="#333" stroke-width="0.1">*</text>
<line x1="188.3" y1="531.2" x2="201.8" y2="531.2" stroke="#555" stroke-width="0.7"/>
<text x="195.05" y="531.95" font-size="5.8" text-anchor="middle" fill="#333" font-weight="normal" stroke="#333" stroke-width="0.1">*</text>
<line x1="195.3" y1="535.6" x2="201.8" y2="535.6" stroke="#555" stroke-width="0.7"/>
<text x="198.55" y="536.35" font-size="5.8" text-anchor="middle" fill="#333" font-weight="normal" stroke="#333" stroke-width="0.1">**</text>
<line x1="234.5" y1="521.5" x2="262.5" y2="521.5" stroke="#555" stroke-width="0.7"/>
<text x="248.5" y="522.25" font-size="5.8" text-anchor="middle" fill="#333" font-weight="normal" stroke="#333" stroke-width="0.1">****</text>
<line x1="241.5" y1="526" x2="262.5" y2="526" stroke="#555" stroke-width="0.7"/>
<text x="252" y="526.75" font-size="5.8" text-anchor="middle" fill="#333" font-weight="normal" stroke="#333" stroke-width="0.1">****</text>
<line x1="248.5" y1="531.2" x2="276.5" y2="531.2" stroke="#555" stroke-width="0.7"/>
<line x1="255.5" y1="535.6" x2="283.5" y2="535.6" stroke="#555" stroke-width="0.7"/>
<line x1="309.5" y1="530.5" x2="323.5" y2="530.5" stroke="#555" stroke-width="0.7"/>
<text x="316.5" y="531.25" font-size="5.8" text-anchor="middle" fill="#333" font-weight="normal" stroke="#333" stroke-width="0.1">***</text>
<line x1="316.5" y1="534.3" x2="323.5" y2="534.3" stroke="#555" stroke-width="0.7"/>
<text x="320" y="535.05" font-size="5.8" text-anchor="middle" fill="#333" font-weight="normal" stroke="#333" stroke-width="0.1">****</text>
<line x1="384.5" y1="535" x2="404.5" y2="535" stroke="#555" stroke-width="0.7"/>
<text x="394.5" y="535.75" font-size="5.8" text-anchor="middle" fill="#333" font-weight="normal" stroke="#333" stroke-width="0.1">**</text>
<text x="134.5" y="531.95" font-size="5.8" text-anchor="middle" fill="#333" font-weight="normal" stroke="#333" stroke-width="0.1">*</text>
<text x="152" y="531.95" font-size="5.8" text-anchor="middle" fill="#333" font-weight="normal" stroke="#333" stroke-width="0.1">**</text>
<text x="138" y="536.35" font-size="5.8" text-anchor="middle" fill="#333" font-weight="normal" stroke="#333" stroke-width="0.1">*</text>
<text x="148" y="536.35" font-size="5.8" text-anchor="middle" fill="#333" font-weight="normal" stroke="#333" stroke-width="0.1">*</text>
<text x="255" y="531.95" font-size="5.8" text-anchor="middle" fill="#333" font-weight="normal" stroke="#333" stroke-width="0.1">****</text>
<text x="270" y="531.95" font-size="5.8" text-anchor="middle" fill="#333" font-weight="normal" stroke="#333" stroke-width="0.1">**</text>
<text x="262" y="536.35" font-size="5.8" text-anchor="middle" fill="#333" font-weight="normal" stroke="#333" stroke-width="0.1">****</text>
<text x="276" y="536.35" font-size="5.8" text-anchor="middle" fill="#333" font-weight="normal" stroke="#333" stroke-width="0.1">*</text>
<rect x="434.4" y="599.5" width="7.7" height="2.8" fill="#b8002e"/>
<text x="445.6" y="603.5" font-size="7" text-anchor="start" fill="#333" font-weight="normal" stroke="#333" stroke-width="0.18">CD25</text>
<rect x="434.4" y="609.8" width="7.7" height="2.8" fill="#3fae3f"/>
<text x="445.6" y="613.8" font-size="7" text-anchor="start" fill="#333" font-weight="normal" stroke="#333" stroke-width="0.18">HLADR</text>
<rect x="434.4" y="620.9" width="7.7" height="2.8" fill="#f29312"/>
<text x="445.6" y="624.9" font-size="7" text-anchor="start" fill="#333" font-weight="normal" stroke="#333" stroke-width="0.18">PD1</text>
<rect x="474.8" y="599.5" width="7.7" height="2.8" fill="#c9c9c9"/>
<text x="486" y="603.5" font-size="7" text-anchor="start" fill="#333" font-weight="normal" stroke="#333" stroke-width="0.18">TIGIT</text>
<rect x="474.8" y="609.8" width="7.7" height="2.8" fill="#1d6b50"/>
<text x="486" y="613.8" font-size="7" text-anchor="start" fill="#333" font-weight="normal" stroke="#333" stroke-width="0.18">LAG3</text>
<rect x="474.8" y="620.9" width="7.7" height="2.8" fill="#d80a78"/>
<text x="486" y="624.9" font-size="7" text-anchor="start" fill="#333" font-weight="normal" stroke="#333" stroke-width="0.18">CD107A</text>
<rect x="0.6" y="0.6" width="518.8" height="731.8" fill="none" stroke="#3c3c3c" stroke-width="1.2"/>
</svg></body></html>
